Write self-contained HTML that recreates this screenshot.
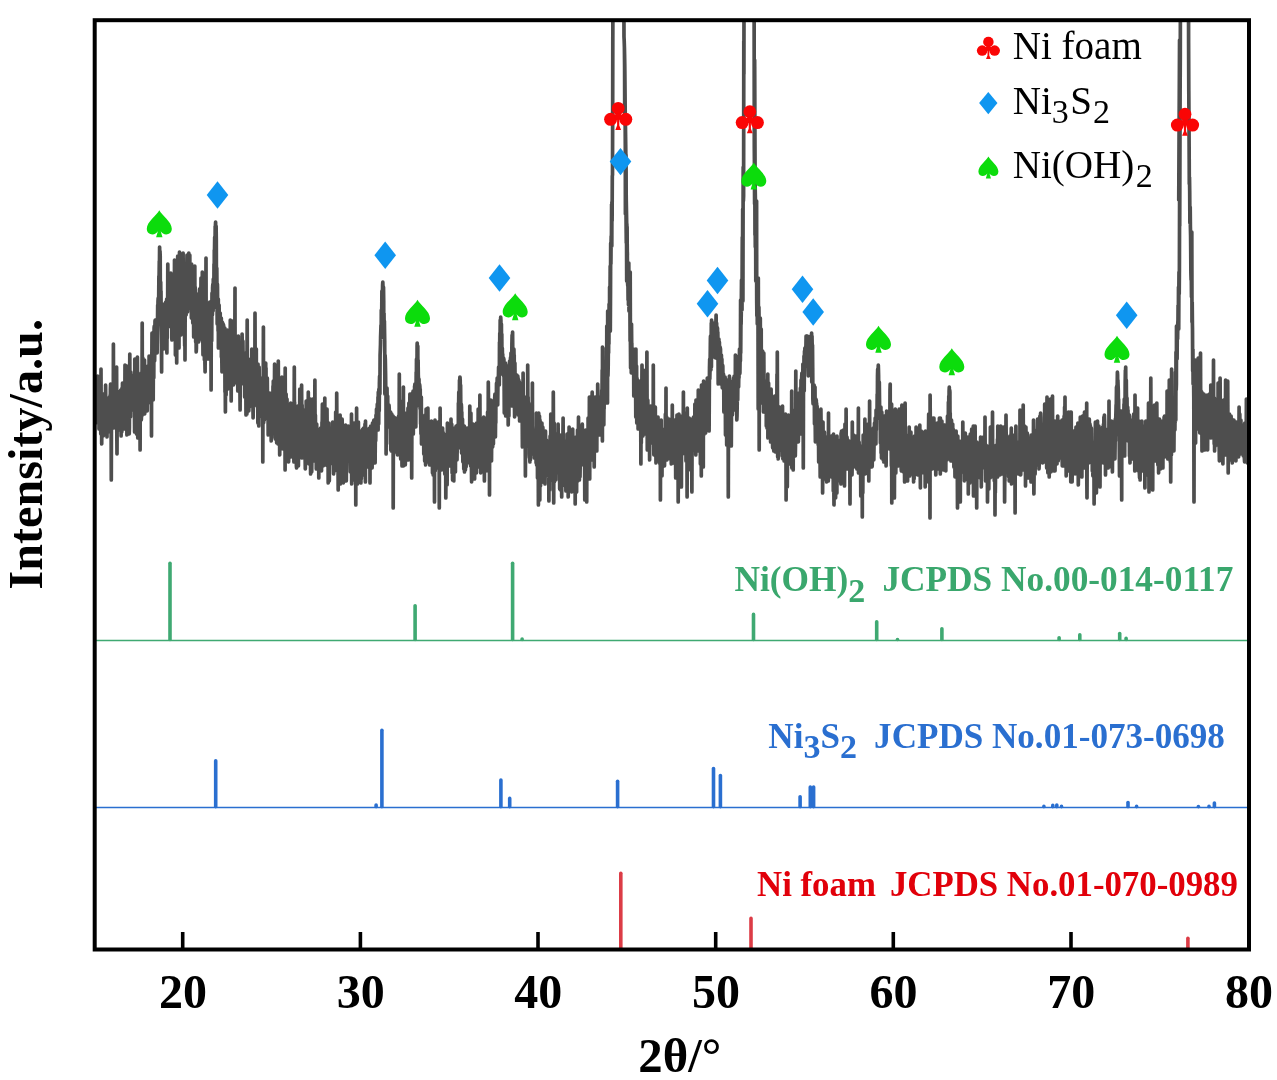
<!DOCTYPE html>
<html lang="en"><head><meta charset="utf-8"><title>XRD pattern</title>
<style>html,body{margin:0;padding:0;background:#fff}svg{display:block}</style></head>
<body>
<svg width="1277" height="1080" viewBox="0 0 1277 1080">
<rect width="1277" height="1080" fill="#fff"/>
<defs><clipPath id="cp"><rect x="94.7" y="20.2" width="1154.3" height="929.3"/></clipPath></defs>
<path clip-path="url(#cp)" d="M93.0 413L93.2 417L93.4 409L93.5 400L93.7 406L93.9 384L94.1 414L94.2 433L94.4 406L94.6 404L94.8 420L95.0 418L95.1 415L95.3 399L95.5 413L95.7 423L95.8 393L96.0 406L96.2 385L96.4 394L96.6 386L96.7 410L96.9 394L97.1 417L97.3 416L97.4 410L97.6 376L97.8 405L98.0 413L98.2 415L98.3 391L98.5 406L98.7 399L98.9 401L99.0 429L99.2 401L99.4 413L99.6 427L99.8 405L99.9 412L100.1 415L100.3 415L100.5 395L100.6 415L100.8 434L101.0 369L101.2 427L101.4 416L101.5 404L101.7 444L101.9 425L102.1 396L102.2 415L102.4 423L102.6 411L102.8 424L102.9 413L103.1 424L103.3 436L103.5 394L103.7 420L103.8 407L104.0 416L104.2 396L104.4 397L104.5 411L104.7 428L104.9 431L105.1 395L105.3 402L105.4 424L105.6 385L105.8 407L106.0 413L106.1 433L106.3 425L106.5 405L106.7 404L106.9 411L107.0 437L107.2 408L107.4 406L107.6 420L107.7 413L107.9 412L108.1 398L108.3 415L108.5 402L108.6 432L108.8 425L109.0 414L109.2 425L109.3 410L109.5 430L109.7 415L109.9 423L110.1 395L110.2 420L110.4 389L110.6 384L110.8 406L110.9 401L111.1 417L111.3 480L111.5 402L111.7 405L111.8 417L112.0 422L112.2 411L112.4 411L112.5 424L112.7 422L112.9 398L113.1 413L113.3 414L113.4 344L113.6 417L113.8 401L114.0 428L114.1 416L114.3 415L114.5 404L114.7 411L114.9 383L115.0 396L115.2 418L115.4 381L115.6 425L115.7 387L115.9 424L116.1 400L116.3 424L116.5 414L116.6 367L116.8 431L117.0 454L117.2 411L117.3 408L117.5 410L117.7 397L117.9 428L118.1 404L118.2 411L118.4 400L118.6 402L118.8 392L118.9 430L119.1 409L119.3 426L119.5 411L119.6 401L119.8 406L120.0 403L120.2 411L120.4 405L120.5 406L120.7 390L120.9 399L121.1 436L121.2 400L121.4 395L121.6 416L121.8 432L122.0 388L122.1 407L122.3 401L122.5 383L122.7 421L122.8 409L123.0 411L123.2 398L123.4 416L123.6 401L123.7 405L123.9 392L124.1 391L124.3 429L124.4 401L124.6 413L124.8 408L125.0 365L125.2 401L125.3 418L125.5 403L125.7 406L125.9 408L126.0 426L126.2 418L126.4 413L126.6 391L126.8 366L126.9 435L127.1 422L127.3 405L127.5 423L127.6 418L127.8 419L128.0 420L128.2 392L128.4 429L128.5 387L128.7 419L128.9 413L129.1 419L129.2 434L129.4 428L129.6 387L129.8 354L130.0 417L130.1 389L130.3 404L130.5 417L130.7 379L130.8 372L131.0 408L131.2 404L131.4 400L131.6 404L131.7 390L131.9 380L132.1 401L132.3 388L132.4 378L132.6 410L132.8 402L133.0 409L133.2 387L133.3 392L133.5 387L133.7 375L133.9 408L134.0 389L134.2 407L134.4 406L134.6 432L134.8 359L134.9 414L135.1 398L135.3 400L135.5 378L135.6 393L135.8 411L136.0 398L136.2 401L136.3 395L136.5 434L136.7 398L136.9 364L137.1 388L137.2 368L137.4 357L137.6 389L137.8 438L137.9 398L138.1 379L138.3 382L138.5 414L138.7 399L138.8 397L139.0 394L139.2 396L139.4 408L139.5 404L139.7 399L139.9 379L140.1 450L140.3 384L140.4 411L140.6 374L140.8 392L141.0 394L141.1 373L141.3 420L141.5 416L141.7 385L141.9 416L142.0 398L142.2 323L142.4 396L142.6 391L142.7 393L142.9 358L143.1 387L143.3 388L143.5 409L143.6 396L143.8 390L144.0 414L144.2 381L144.3 383L144.5 360L144.7 414L144.9 404L145.1 403L145.2 399L145.4 391L145.6 391L145.8 380L145.9 384L146.1 388L146.3 411L146.5 395L146.7 385L146.8 376L147.0 375L147.2 411L147.4 393L147.5 385L147.7 378L147.9 366L148.1 382L148.3 397L148.4 377L148.6 379L148.8 379L149.0 384L149.1 356L149.3 377L149.5 367L149.7 395L149.9 367L150.0 389L150.2 403L150.4 368L150.6 367L150.7 379L150.9 375L151.1 357L151.3 380L151.5 436L151.6 365L151.8 365L152.0 333L152.2 375L152.3 343L152.5 343L152.7 380L152.9 343L153.0 373L153.2 400L153.4 355L153.6 358L153.8 378L153.9 343L154.1 328L154.3 326L154.5 342L154.6 361L154.8 352L155.0 321L155.2 320L155.4 327L155.5 338L155.7 329L155.9 335L156.1 335L156.2 325L156.4 328L156.6 331L156.8 326L157.0 334L157.1 353L157.3 333L157.5 324L157.7 305L157.8 325L158.0 301L158.2 298L158.4 323L158.6 316L158.7 298L158.9 276L159.1 277L159.3 261L159.4 272L159.6 247L159.8 259L160.0 251L160.2 256L160.3 282L160.5 288L160.7 282L160.9 305L161.0 291L161.2 327L161.4 344L161.6 372L161.8 309L161.9 325L162.1 316L162.3 313L162.5 310L162.6 304L162.8 304L163.0 332L163.2 318L163.4 327L163.5 349L163.7 305L163.9 305L164.1 323L164.2 326L164.4 315L164.6 335L164.8 323L165.0 304L165.1 306L165.3 331L165.5 325L165.7 302L165.8 338L166.0 335L166.2 337L166.4 311L166.6 312L166.7 299L166.9 353L167.1 312L167.3 338L167.4 304L167.6 318L167.8 264L168.0 301L168.2 326L168.3 293L168.5 327L168.7 315L168.9 294L169.0 302L169.2 302L169.4 307L169.6 299L169.7 293L169.9 301L170.1 287L170.3 281L170.5 305L170.6 323L170.8 273L171.0 305L171.2 290L171.3 282L171.5 324L171.7 291L171.9 340L172.1 284L172.2 322L172.4 298L172.6 285L172.8 317L172.9 296L173.1 318L173.3 302L173.5 276L173.7 300L173.8 304L174.0 326L174.2 280L174.4 302L174.5 260L174.7 318L174.9 276L175.1 279L175.3 299L175.4 355L175.6 265L175.8 275L176.0 284L176.1 274L176.3 311L176.5 282L176.7 363L176.9 316L177.0 283L177.2 312L177.4 278L177.6 272L177.7 256L177.9 347L178.1 293L178.3 307L178.5 300L178.6 305L178.8 302L179.0 348L179.2 275L179.3 263L179.5 252L179.7 264L179.9 319L180.1 321L180.2 277L180.4 266L180.6 292L180.8 335L180.9 261L181.1 313L181.3 274L181.5 326L181.7 274L181.8 293L182.0 263L182.2 276L182.4 334L182.5 320L182.7 290L182.9 278L183.1 253L183.3 290L183.4 299L183.6 298L183.8 298L184.0 272L184.1 297L184.3 299L184.5 332L184.7 346L184.9 297L185.0 360L185.2 299L185.4 285L185.6 265L185.7 299L185.9 275L186.1 315L186.3 298L186.4 307L186.6 296L186.8 266L187.0 255L187.2 295L187.3 274L187.5 312L187.7 301L187.9 267L188.0 303L188.2 268L188.4 286L188.6 294L188.8 253L188.9 305L189.1 305L189.3 294L189.5 291L189.6 292L189.8 255L190.0 295L190.2 288L190.4 304L190.5 273L190.7 308L190.9 306L191.1 300L191.2 293L191.4 318L191.6 264L191.8 316L192.0 317L192.1 313L192.3 316L192.5 277L192.7 302L192.8 323L193.0 319L193.2 315L193.4 278L193.6 323L193.7 337L193.9 334L194.1 318L194.3 282L194.4 334L194.6 312L194.8 266L195.0 323L195.2 287L195.3 292L195.5 305L195.7 342L195.9 310L196.0 323L196.2 352L196.4 349L196.6 316L196.8 314L196.9 294L197.1 305L197.3 327L197.5 327L197.6 321L197.8 338L198.0 305L198.2 318L198.4 334L198.5 342L198.7 340L198.9 328L199.1 314L199.2 327L199.4 301L199.6 289L199.8 332L200.0 320L200.1 327L200.3 288L200.5 307L200.7 299L200.8 305L201.0 278L201.2 315L201.4 339L201.6 329L201.7 310L201.9 321L202.1 336L202.3 272L202.4 320L202.6 342L202.8 335L203.0 355L203.1 344L203.3 328L203.5 328L203.7 337L203.9 312L204.0 321L204.2 340L204.4 360L204.6 319L204.7 320L204.9 362L205.1 372L205.3 321L205.5 350L205.6 303L205.8 318L206.0 258L206.2 337L206.3 342L206.5 306L206.7 306L206.9 328L207.1 309L207.2 305L207.4 341L207.6 330L207.8 330L207.9 312L208.1 359L208.3 316L208.5 341L208.7 304L208.8 304L209.0 323L209.2 306L209.4 332L209.5 324L209.7 302L209.9 319L210.1 311L210.3 335L210.4 304L210.6 308L210.8 355L211.0 358L211.1 390L211.3 315L211.5 317L211.7 341L211.9 308L212.0 293L212.2 312L212.4 315L212.6 288L212.7 286L212.9 284L213.1 311L213.3 279L213.5 288L213.6 291L213.8 307L214.0 264L214.2 292L214.3 250L214.5 252L214.7 237L214.9 270L215.1 240L215.2 226L215.4 226L215.6 222L215.8 247L215.9 226L216.1 226L216.3 240L216.5 308L216.7 282L216.8 268L217.0 291L217.2 324L217.4 284L217.5 287L217.7 322L217.9 312L218.1 331L218.3 299L218.4 348L218.6 346L218.8 327L219.0 332L219.1 305L219.3 334L219.5 321L219.7 334L219.8 339L220.0 316L220.2 313L220.4 337L220.6 318L220.7 326L220.9 322L221.1 328L221.3 318L221.4 357L221.6 340L221.8 356L222.0 372L222.2 338L222.3 322L222.5 323L222.7 323L222.9 330L223.0 341L223.2 324L223.4 347L223.6 325L223.8 347L223.9 340L224.1 337L224.3 341L224.5 334L224.6 333L224.8 328L225.0 392L225.2 377L225.4 412L225.5 390L225.7 358L225.9 334L226.1 395L226.2 346L226.4 346L226.6 342L226.8 351L227.0 340L227.1 347L227.3 330L227.5 342L227.7 389L227.8 348L228.0 345L228.2 359L228.4 362L228.6 331L228.7 347L228.9 367L229.1 356L229.3 354L229.4 379L229.6 341L229.8 354L230.0 344L230.2 379L230.3 320L230.5 342L230.7 336L230.9 366L231.0 365L231.2 401L231.4 328L231.6 380L231.8 351L231.9 344L232.1 365L232.3 326L232.5 321L232.6 351L232.8 332L233.0 346L233.2 364L233.4 363L233.5 385L233.7 355L233.9 332L234.1 346L234.2 343L234.4 339L234.6 367L234.8 349L235.0 288L235.1 372L235.3 359L235.5 367L235.7 363L235.8 372L236.0 362L236.2 383L236.4 369L236.5 369L236.7 376L236.9 338L237.1 360L237.3 359L237.4 367L237.6 341L237.8 391L238.0 366L238.1 344L238.3 336L238.5 360L238.7 362L238.9 353L239.0 368L239.2 355L239.4 375L239.6 354L239.7 366L239.9 383L240.1 410L240.3 350L240.5 352L240.6 353L240.8 381L241.0 349L241.2 360L241.3 368L241.5 352L241.7 353L241.9 361L242.1 334L242.2 346L242.4 356L242.6 375L242.8 367L242.9 341L243.1 363L243.3 384L243.5 380L243.7 370L243.8 357L244.0 382L244.2 362L244.4 353L244.5 359L244.7 397L244.9 380L245.1 392L245.3 358L245.4 389L245.6 364L245.8 372L246.0 415L246.1 387L246.3 366L246.5 374L246.7 380L246.9 414L247.0 360L247.2 320L247.4 371L247.6 376L247.7 378L247.9 398L248.1 382L248.3 390L248.5 359L248.6 391L248.8 411L249.0 390L249.2 381L249.3 380L249.5 407L249.7 363L249.9 376L250.1 386L250.2 390L250.4 364L250.6 383L250.8 374L250.9 381L251.1 377L251.3 360L251.5 379L251.7 394L251.8 349L252.0 376L252.2 401L252.4 362L252.5 383L252.7 363L252.9 399L253.1 418L253.2 413L253.4 377L253.6 393L253.8 383L254.0 383L254.1 406L254.3 360L254.5 399L254.7 381L254.8 405L255.0 313L255.2 371L255.4 387L255.6 395L255.7 383L255.9 391L256.1 375L256.3 349L256.4 398L256.6 395L256.8 387L257.0 386L257.2 401L257.3 378L257.5 374L257.7 382L257.9 423L258.0 364L258.2 405L258.4 376L258.6 369L258.8 426L258.9 386L259.1 367L259.3 382L259.5 417L259.6 407L259.8 382L260.0 395L260.2 411L260.4 379L260.5 395L260.7 389L260.9 381L261.1 382L261.2 391L261.4 391L261.6 382L261.8 378L262.0 409L262.1 395L262.3 406L262.5 411L262.7 402L262.8 462L263.0 380L263.2 406L263.4 327L263.6 423L263.7 421L263.9 364L264.1 380L264.3 406L264.4 420L264.6 408L264.8 395L265.0 404L265.2 408L265.3 396L265.5 414L265.7 363L265.9 409L266.0 368L266.2 414L266.4 396L266.6 387L266.8 406L266.9 387L267.1 387L267.3 378L267.5 402L267.6 410L267.8 419L268.0 401L268.2 435L268.4 404L268.5 403L268.7 414L268.9 421L269.1 400L269.2 402L269.4 402L269.6 408L269.8 393L269.9 423L270.1 402L270.3 415L270.5 396L270.7 414L270.8 415L271.0 397L271.2 441L271.4 416L271.5 438L271.7 426L271.9 402L272.1 406L272.3 425L272.4 413L272.6 413L272.8 409L273.0 386L273.1 410L273.3 381L273.5 420L273.7 403L273.9 404L274.0 411L274.2 419L274.4 394L274.6 364L274.7 399L274.9 385L275.1 401L275.3 439L275.5 400L275.6 426L275.8 396L276.0 421L276.2 412L276.3 416L276.5 425L276.7 443L276.9 420L277.1 421L277.2 403L277.4 426L277.6 414L277.8 430L277.9 417L278.1 444L278.3 361L278.5 414L278.7 432L278.8 409L279.0 407L279.2 415L279.4 379L279.5 421L279.7 455L279.9 436L280.1 403L280.3 407L280.4 408L280.6 435L280.8 397L281.0 410L281.1 434L281.3 433L281.5 410L281.7 405L281.9 377L282.0 411L282.2 389L282.4 443L282.6 413L282.7 429L282.9 449L283.1 439L283.3 406L283.5 435L283.6 440L283.8 412L284.0 409L284.2 422L284.3 400L284.5 445L284.7 389L284.9 392L285.1 470L285.2 368L285.4 429L285.6 428L285.8 421L285.9 457L286.1 394L286.3 425L286.5 414L286.6 427L286.8 428L287.0 399L287.2 416L287.4 437L287.5 431L287.7 416L287.9 455L288.1 459L288.2 405L288.4 430L288.6 462L288.8 448L289.0 430L289.1 424L289.3 419L289.5 424L289.7 419L289.8 438L290.0 421L290.2 421L290.4 410L290.6 426L290.7 403L290.9 425L291.1 457L291.3 433L291.4 442L291.6 433L291.8 429L292.0 427L292.2 420L292.3 440L292.5 413L292.7 448L292.9 430L293.0 418L293.2 422L293.4 420L293.6 432L293.8 410L293.9 462L294.1 419L294.3 367L294.5 420L294.6 402L294.8 430L295.0 446L295.2 440L295.4 412L295.5 420L295.7 456L295.9 436L296.1 431L296.2 446L296.4 466L296.6 468L296.8 434L297.0 437L297.1 441L297.3 423L297.5 417L297.7 433L297.8 406L298.0 432L298.2 434L298.4 466L298.6 421L298.7 430L298.9 431L299.1 440L299.3 448L299.4 427L299.6 422L299.8 389L300.0 408L300.2 442L300.3 435L300.5 420L300.7 429L300.9 435L301.0 442L301.2 427L301.4 431L301.6 385L301.8 419L301.9 458L302.1 405L302.3 431L302.5 442L302.6 431L302.8 425L303.0 435L303.2 436L303.3 435L303.5 410L303.7 435L303.9 425L304.1 429L304.2 440L304.4 446L304.6 450L304.8 424L304.9 450L305.1 454L305.3 469L305.5 457L305.7 436L305.8 433L306.0 461L306.2 401L306.4 442L306.5 431L306.7 434L306.9 415L307.1 427L307.3 439L307.4 452L307.6 453L307.8 438L308.0 437L308.1 428L308.3 392L308.5 436L308.7 448L308.9 464L309.0 440L309.2 419L309.4 428L309.6 420L309.7 424L309.9 458L310.1 443L310.3 399L310.5 449L310.6 474L310.8 435L311.0 422L311.2 436L311.3 444L311.5 449L311.7 472L311.9 457L312.1 457L312.2 459L312.4 458L312.6 399L312.8 439L312.9 449L313.1 435L313.3 453L313.5 436L313.7 428L313.8 461L314.0 450L314.2 444L314.4 454L314.5 456L314.7 446L314.9 380L315.1 432L315.3 435L315.4 415L315.6 444L315.8 458L316.0 435L316.1 426L316.3 469L316.5 435L316.7 424L316.9 445L317.0 447L317.2 432L317.4 453L317.6 435L317.7 429L317.9 444L318.1 452L318.3 433L318.5 446L318.6 441L318.8 478L319.0 432L319.2 461L319.3 441L319.5 440L319.7 452L319.9 454L320.0 460L320.2 447L320.4 434L320.6 428L320.8 449L320.9 450L321.1 462L321.3 448L321.5 471L321.6 463L321.8 445L322.0 422L322.2 426L322.4 404L322.5 465L322.7 431L322.9 460L323.1 451L323.2 466L323.4 457L323.6 442L323.8 440L324.0 444L324.1 446L324.3 436L324.5 443L324.7 465L324.8 398L325.0 447L325.2 431L325.4 446L325.6 455L325.7 443L325.9 454L326.1 422L326.3 459L326.4 436L326.6 453L326.8 447L327.0 409L327.2 434L327.3 448L327.5 466L327.7 449L327.9 452L328.0 426L328.2 483L328.4 470L328.6 446L328.8 442L328.9 423L329.1 457L329.3 481L329.5 455L329.6 463L329.8 460L330.0 432L330.2 464L330.4 429L330.5 443L330.7 450L330.9 458L331.1 452L331.2 451L331.4 436L331.6 429L331.8 447L332.0 428L332.1 429L332.3 429L332.5 440L332.7 422L332.8 429L333.0 425L333.2 449L333.4 453L333.6 474L333.7 427L333.9 438L334.1 460L334.3 444L334.4 443L334.6 471L334.8 443L335.0 432L335.2 430L335.3 452L335.5 452L335.7 412L335.9 435L336.0 455L336.2 456L336.4 440L336.6 465L336.7 393L336.9 424L337.1 444L337.3 454L337.5 441L337.6 420L337.8 441L338.0 459L338.2 490L338.3 419L338.5 484L338.7 433L338.9 462L339.1 465L339.2 462L339.4 451L339.6 433L339.8 457L339.9 439L340.1 415L340.3 484L340.5 458L340.7 473L340.8 436L341.0 468L341.2 470L341.4 470L341.5 448L341.7 433L341.9 446L342.1 419L342.3 426L342.4 451L342.6 435L342.8 447L343.0 447L343.1 475L343.3 483L343.5 448L343.7 465L343.9 438L344.0 444L344.2 461L344.4 432L344.6 442L344.7 431L344.9 450L345.1 471L345.3 439L345.5 452L345.6 425L345.8 433L346.0 432L346.2 469L346.3 481L346.5 455L346.7 439L346.9 458L347.1 444L347.2 460L347.4 453L347.6 453L347.8 457L347.9 441L348.1 438L348.3 426L348.5 443L348.7 430L348.8 445L349.0 436L349.2 450L349.4 455L349.5 430L349.7 438L349.9 436L350.1 459L350.3 472L350.4 460L350.6 440L350.8 469L351.0 429L351.1 469L351.3 440L351.5 414L351.7 484L351.9 470L352.0 422L352.2 451L352.4 446L352.6 450L352.7 429L352.9 440L353.1 455L353.3 455L353.4 465L353.6 450L353.8 480L354.0 439L354.2 456L354.3 423L354.5 432L354.7 467L354.9 436L355.0 463L355.2 448L355.4 435L355.6 444L355.8 505L355.9 442L356.1 459L356.3 457L356.5 441L356.6 408L356.8 452L357.0 447L357.2 462L357.4 484L357.5 460L357.7 448L357.9 446L358.1 426L358.2 436L358.4 422L358.6 443L358.8 443L359.0 468L359.1 443L359.3 446L359.5 432L359.7 470L359.8 455L360.0 472L360.2 459L360.4 468L360.6 441L360.7 458L360.9 483L361.1 431L361.3 479L361.4 471L361.6 453L361.8 458L362.0 465L362.2 439L362.3 459L362.5 436L362.7 429L362.9 431L363.0 446L363.2 449L363.4 454L363.6 428L363.8 475L363.9 463L364.1 467L364.3 442L364.5 446L364.6 455L364.8 453L365.0 424L365.2 457L365.4 482L365.5 421L365.7 460L365.9 452L366.1 445L366.2 466L366.4 430L366.6 451L366.8 467L367.0 443L367.1 440L367.3 447L367.5 439L367.7 467L367.8 433L368.0 457L368.2 429L368.4 454L368.6 443L368.7 429L368.9 444L369.1 429L369.3 438L369.4 465L369.6 428L369.8 428L370.0 483L370.1 445L370.3 465L370.5 447L370.7 426L370.9 441L371.0 459L371.2 455L371.4 441L371.6 442L371.7 439L371.9 432L372.1 468L372.3 440L372.5 423L372.6 432L372.8 449L373.0 448L373.2 436L373.3 428L373.5 437L373.7 421L373.9 420L374.1 447L374.2 428L374.4 440L374.6 452L374.8 443L374.9 433L375.1 463L375.3 441L375.5 425L375.7 441L375.8 435L376.0 415L376.2 428L376.4 421L376.5 409L376.7 419L376.9 418L377.1 414L377.3 404L377.4 413L377.6 415L377.8 416L378.0 397L378.1 430L378.3 392L378.5 402L378.7 424L378.9 389L379.0 389L379.2 411L379.4 383L379.6 376L379.7 385L379.9 394L380.1 355L380.3 350L380.5 344L380.6 337L380.8 331L381.0 325L381.2 338L381.3 310L381.5 321L381.7 319L381.9 291L382.1 305L382.2 327L382.4 298L382.6 285L382.8 282L382.9 285L383.1 304L383.3 315L383.5 287L383.7 301L383.8 337L384.0 313L384.2 333L384.4 321L384.5 329L384.7 341L384.9 394L385.1 355L385.3 359L385.4 364L385.6 375L385.8 393L386.0 389L386.1 454L386.3 397L386.5 419L386.7 408L386.8 411L387.0 388L387.2 405L387.4 408L387.6 407L387.7 396L387.9 427L388.1 409L388.3 410L388.4 414L388.6 416L388.8 426L389.0 405L389.2 408L389.3 427L389.5 426L389.7 419L389.9 417L390.0 414L390.2 426L390.4 444L390.6 412L390.8 450L390.9 441L391.1 422L391.3 451L391.5 414L391.6 414L391.8 414L392.0 425L392.2 426L392.4 424L392.5 433L392.7 416L392.9 439L393.1 416L393.2 508L393.4 427L393.6 417L393.8 417L394.0 419L394.1 433L394.3 442L394.5 449L394.7 420L394.8 423L395.0 421L395.2 446L395.4 418L395.6 452L395.7 421L395.9 423L396.1 439L396.3 449L396.4 439L396.6 449L396.8 438L397.0 452L397.2 452L397.3 433L397.5 455L397.7 437L397.9 436L398.0 422L398.2 427L398.4 446L398.6 416L398.8 453L398.9 440L399.1 439L399.3 374L399.5 433L399.6 444L399.8 424L400.0 436L400.2 401L400.4 444L400.5 417L400.7 459L400.9 409L401.1 444L401.2 431L401.4 446L401.6 422L401.8 426L402.0 466L402.1 423L402.3 425L402.5 427L402.7 406L402.8 451L403.0 459L403.2 424L403.4 387L403.5 466L403.7 449L403.9 445L404.1 450L404.3 421L404.4 431L404.6 414L404.8 413L405.0 447L405.1 423L405.3 465L405.5 435L405.7 423L405.9 444L406.0 458L406.2 439L406.4 414L406.6 437L406.7 451L406.9 424L407.1 420L407.3 459L407.5 433L407.6 414L407.8 424L408.0 408L408.2 433L408.3 430L408.5 460L408.7 437L408.9 403L409.1 431L409.2 437L409.4 430L409.6 438L409.8 414L409.9 394L410.1 433L410.3 403L410.5 402L410.7 432L410.8 405L411.0 411L411.2 398L411.4 397L411.5 397L411.7 478L411.9 417L412.1 395L412.3 421L412.4 393L412.6 393L412.8 428L413.0 406L413.1 391L413.3 434L413.5 393L413.7 413L413.9 408L414.0 426L414.2 396L414.4 418L414.6 386L414.7 418L414.9 384L415.1 393L415.3 427L415.5 401L415.6 396L415.8 427L416.0 395L416.2 372L416.3 392L416.5 359L416.7 387L416.9 381L417.1 346L417.2 343L417.4 354L417.6 356L417.8 346L417.9 388L418.1 360L418.3 375L418.5 380L418.7 385L418.8 402L419.0 379L419.2 406L419.4 396L419.5 384L419.7 385L419.9 387L420.1 409L420.2 389L420.4 407L420.6 424L420.8 424L421.0 434L421.1 403L421.3 397L421.5 444L421.7 424L421.8 433L422.0 418L422.2 437L422.4 433L422.6 432L422.7 430L422.9 430L423.1 429L423.3 429L423.4 441L423.6 421L423.8 454L424.0 428L424.2 444L424.3 429L424.5 428L424.7 461L424.9 428L425.0 415L425.2 423L425.4 430L425.6 465L425.8 438L425.9 449L426.1 409L426.3 441L426.5 446L426.6 462L426.8 428L427.0 446L427.2 442L427.4 424L427.5 439L427.7 436L427.9 408L428.1 448L428.2 448L428.4 435L428.6 423L428.8 462L429.0 446L429.1 456L429.3 462L429.5 436L429.7 465L429.8 440L430.0 443L430.2 443L430.4 444L430.6 459L430.7 446L430.9 442L431.1 441L431.3 449L431.4 421L431.6 438L431.8 444L432.0 430L432.2 443L432.3 437L432.5 473L432.7 463L432.9 452L433.0 445L433.2 475L433.4 450L433.6 445L433.8 450L433.9 454L434.1 465L434.3 446L434.5 502L434.6 434L434.8 456L435.0 420L435.2 471L435.4 442L435.5 446L435.7 459L435.9 464L436.1 432L436.2 442L436.4 428L436.6 449L436.8 446L436.9 442L437.1 438L437.3 442L437.5 437L437.7 455L437.8 468L438.0 422L438.2 446L438.4 442L438.5 454L438.7 435L438.9 446L439.1 434L439.3 508L439.4 450L439.6 446L439.8 453L440.0 442L440.1 408L440.3 457L440.5 453L440.7 447L440.9 462L441.0 465L441.2 434L441.4 438L441.6 470L441.7 468L441.9 430L442.1 433L442.3 441L442.5 443L442.6 428L442.8 450L443.0 432L443.2 433L443.3 462L443.5 441L443.7 449L443.9 458L444.1 461L444.2 441L444.4 451L444.6 439L444.8 474L444.9 459L445.1 436L445.3 451L445.5 460L445.7 457L445.8 498L446.0 469L446.2 443L446.4 449L446.5 434L446.7 454L446.9 455L447.1 485L447.3 452L447.4 423L447.6 433L447.8 452L448.0 434L448.1 439L448.3 445L448.5 459L448.7 446L448.9 427L449.0 460L449.2 443L449.4 437L449.6 431L449.7 439L449.9 466L450.1 427L450.3 448L450.5 459L450.6 444L450.8 452L451.0 419L451.2 466L451.3 463L451.5 451L451.7 424L451.9 434L452.1 473L452.2 471L452.4 451L452.6 480L452.8 439L452.9 444L453.1 447L453.3 452L453.5 430L453.6 459L453.8 481L454.0 430L454.2 429L454.4 450L454.5 436L454.7 428L454.9 455L455.1 448L455.2 437L455.4 472L455.6 444L455.8 431L456.0 443L456.1 426L456.3 429L456.5 450L456.7 431L456.8 431L457.0 460L457.2 447L457.4 445L457.6 446L457.7 436L457.9 448L458.1 424L458.3 448L458.4 403L458.6 409L458.8 392L459.0 397L459.2 405L459.3 415L459.5 380L459.7 386L459.9 377L460.0 377L460.2 380L460.4 397L460.6 385L460.8 408L460.9 412L461.1 406L461.3 404L461.5 407L461.6 453L461.8 412L462.0 453L462.2 449L462.4 429L462.5 419L462.7 451L462.9 462L463.1 425L463.2 435L463.4 454L463.6 445L463.8 469L464.0 434L464.1 457L464.3 426L464.5 472L464.7 433L464.8 427L465.0 442L465.2 440L465.4 470L465.6 440L465.7 444L465.9 453L466.1 467L466.3 444L466.4 460L466.6 459L466.8 442L467.0 447L467.2 447L467.3 434L467.5 463L467.7 428L467.9 462L468.0 460L468.2 446L468.4 437L468.6 444L468.8 454L468.9 457L469.1 455L469.3 461L469.5 440L469.6 451L469.8 406L470.0 458L470.2 452L470.3 442L470.5 464L470.7 466L470.9 413L471.1 449L471.2 429L471.4 463L471.6 482L471.8 435L471.9 450L472.1 445L472.3 453L472.5 457L472.7 466L472.8 436L473.0 470L473.2 424L473.4 453L473.5 465L473.7 459L473.9 436L474.1 439L474.3 443L474.4 448L474.6 479L474.8 431L475.0 455L475.1 457L475.3 456L475.5 455L475.7 469L475.9 455L476.0 460L476.2 456L476.4 473L476.6 423L476.7 466L476.9 445L477.1 445L477.3 435L477.5 423L477.6 443L477.8 439L478.0 455L478.2 409L478.3 467L478.5 455L478.7 445L478.9 438L479.1 437L479.2 433L479.4 440L479.6 448L479.8 445L479.9 395L480.1 444L480.3 435L480.5 450L480.7 473L480.8 456L481.0 443L481.2 425L481.4 428L481.5 424L481.7 457L481.9 427L482.1 448L482.3 439L482.4 448L482.6 466L482.8 438L483.0 442L483.1 436L483.3 459L483.5 433L483.7 417L483.9 428L484.0 427L484.2 453L484.4 481L484.6 432L484.7 459L484.9 449L485.1 430L485.3 441L485.5 442L485.6 435L485.8 471L486.0 418L486.2 449L486.3 452L486.5 435L486.7 447L486.9 466L487.0 444L487.2 447L487.4 460L487.6 412L487.8 461L487.9 471L488.1 453L488.3 382L488.5 400L488.6 437L488.8 426L489.0 429L489.2 451L489.4 415L489.5 495L489.7 409L489.9 433L490.1 436L490.2 425L490.4 424L490.6 460L490.8 400L491.0 418L491.1 421L491.3 449L491.5 461L491.7 435L491.8 409L492.0 422L492.2 443L492.4 414L492.6 447L492.7 446L492.9 425L493.1 432L493.3 433L493.4 444L493.6 404L493.8 436L494.0 412L494.2 400L494.3 416L494.5 410L494.7 398L494.9 395L495.0 394L495.2 431L495.4 437L495.6 416L495.8 423L495.9 396L496.1 401L496.3 405L496.5 384L496.6 383L496.8 398L497.0 390L497.2 378L497.4 404L497.5 386L497.7 405L497.9 387L498.1 380L498.2 385L498.4 377L498.6 367L498.8 368L499.0 384L499.1 378L499.3 385L499.5 342L499.7 346L499.8 333L500.0 344L500.2 320L500.4 320L500.6 340L500.7 317L500.9 320L501.1 354L501.3 352L501.4 324L501.6 360L501.8 334L502.0 374L502.2 355L502.3 348L502.5 358L502.7 354L502.9 372L503.0 373L503.2 372L503.4 364L503.6 358L503.7 376L503.9 359L504.1 380L504.3 413L504.5 381L504.6 371L504.8 374L505.0 375L505.2 369L505.3 368L505.5 363L505.7 416L505.9 378L506.1 409L506.2 374L506.4 380L506.6 376L506.8 386L506.9 392L507.1 382L507.3 367L507.5 366L507.7 405L507.8 374L508.0 374L508.2 425L508.4 413L508.5 387L508.7 372L508.9 416L509.1 384L509.3 395L509.4 375L509.6 361L509.8 361L510.0 383L510.1 382L510.3 371L510.5 358L510.7 357L510.9 366L511.0 353L511.2 382L511.4 384L511.6 406L511.7 373L511.9 344L512.1 335L512.3 335L512.5 335L512.6 332L512.8 357L513.0 354L513.2 357L513.3 356L513.5 368L513.7 386L513.9 349L514.1 361L514.2 355L514.4 400L514.6 417L514.8 402L514.9 363L515.1 383L515.3 378L515.5 384L515.7 378L515.8 393L516.0 379L516.2 400L516.4 391L516.5 379L516.7 387L516.9 375L517.1 403L517.3 386L517.4 396L517.6 386L517.8 376L518.0 407L518.1 378L518.3 415L518.5 402L518.7 380L518.9 382L519.0 389L519.2 385L519.4 382L519.6 421L519.7 396L519.9 406L520.1 388L520.3 406L520.4 391L520.6 403L520.8 412L521.0 405L521.2 398L521.3 389L521.5 411L521.7 412L521.9 400L522.0 396L522.2 417L522.4 447L522.6 405L522.8 415L522.9 417L523.1 373L523.3 414L523.5 402L523.6 434L523.8 410L524.0 403L524.2 412L524.4 418L524.5 408L524.7 416L524.9 397L525.1 414L525.2 430L525.4 476L525.6 430L525.8 424L526.0 438L526.1 436L526.3 446L526.5 438L526.7 421L526.8 427L527.0 429L527.2 429L527.4 430L527.6 413L527.7 365L527.9 416L528.1 397L528.3 428L528.4 428L528.6 403L528.8 439L529.0 442L529.2 431L529.3 455L529.5 458L529.7 413L529.9 462L530.0 439L530.2 439L530.4 460L530.6 412L530.8 425L530.9 422L531.1 423L531.3 434L531.5 414L531.6 420L531.8 445L532.0 435L532.2 443L532.4 383L532.5 426L532.7 430L532.9 439L533.1 431L533.2 454L533.4 439L533.6 441L533.8 441L534.0 452L534.1 434L534.3 458L534.5 449L534.7 447L534.8 444L535.0 450L535.2 458L535.4 457L535.6 449L535.7 457L535.9 446L536.1 463L536.3 444L536.4 413L536.6 465L536.8 447L537.0 428L537.2 443L537.3 420L537.5 478L537.7 454L537.9 423L538.0 463L538.2 441L538.4 505L538.6 416L538.7 413L538.9 449L539.1 443L539.3 442L539.5 416L539.6 462L539.8 500L540.0 420L540.2 468L540.3 441L540.5 486L540.7 457L540.9 447L541.1 483L541.2 458L541.4 441L541.6 461L541.8 443L541.9 423L542.1 482L542.3 440L542.5 441L542.7 456L542.8 427L543.0 430L543.2 436L543.4 443L543.5 452L543.7 469L543.9 444L544.1 459L544.3 461L544.4 435L544.6 455L544.8 437L545.0 484L545.1 459L545.3 452L545.5 431L545.7 454L545.9 440L546.0 463L546.2 450L546.4 440L546.6 467L546.7 463L546.9 443L547.1 470L547.3 448L547.5 448L547.6 456L547.8 441L548.0 446L548.2 451L548.3 476L548.5 476L548.7 449L548.9 501L549.1 453L549.2 459L549.4 467L549.6 458L549.8 490L549.9 457L550.1 436L550.3 474L550.5 448L550.7 449L550.8 414L551.0 469L551.2 467L551.4 466L551.5 469L551.7 480L551.9 453L552.1 469L552.3 443L552.4 449L552.6 471L552.8 461L553.0 435L553.1 460L553.3 392L553.5 431L553.7 503L553.9 449L554.0 431L554.2 423L554.4 482L554.6 433L554.7 459L554.9 465L555.1 465L555.3 437L555.4 451L555.6 458L555.8 480L556.0 446L556.2 439L556.3 471L556.5 473L556.7 462L556.9 447L557.0 463L557.2 458L557.4 469L557.6 438L557.8 459L557.9 454L558.1 424L558.3 463L558.5 458L558.6 451L558.8 463L559.0 436L559.2 457L559.4 464L559.5 462L559.7 489L559.9 440L560.1 435L560.2 461L560.4 465L560.6 490L560.8 467L561.0 445L561.1 470L561.3 446L561.5 436L561.7 497L561.8 463L562.0 479L562.2 467L562.4 486L562.6 463L562.7 477L562.9 443L563.1 418L563.3 480L563.4 481L563.6 466L563.8 462L564.0 461L564.2 448L564.3 482L564.5 468L564.7 473L564.9 464L565.0 474L565.2 466L565.4 470L565.6 441L565.8 466L565.9 491L566.1 451L566.3 456L566.5 484L566.6 473L566.8 468L567.0 434L567.2 466L567.4 440L567.5 446L567.7 474L567.9 453L568.1 470L568.2 497L568.4 470L568.6 469L568.8 444L569.0 439L569.1 427L569.3 450L569.5 441L569.7 448L569.8 454L570.0 442L570.2 436L570.4 437L570.6 464L570.7 458L570.9 473L571.1 473L571.3 452L571.4 467L571.6 436L571.8 492L572.0 475L572.1 454L572.3 440L572.5 463L572.7 429L572.9 445L573.0 468L573.2 458L573.4 450L573.6 471L573.7 441L573.9 461L574.1 449L574.3 444L574.5 464L574.6 442L574.8 486L575.0 448L575.2 504L575.3 440L575.5 466L575.7 439L575.9 437L576.1 459L576.2 477L576.4 438L576.6 492L576.8 445L576.9 459L577.1 463L577.3 466L577.5 430L577.7 481L577.8 465L578.0 451L578.2 441L578.4 431L578.5 417L578.7 465L578.9 452L579.1 440L579.3 441L579.4 480L579.6 452L579.8 448L580.0 477L580.1 471L580.3 458L580.5 439L580.7 434L580.9 439L581.0 450L581.2 454L581.4 462L581.6 465L581.7 460L581.9 460L582.1 427L582.3 424L582.5 449L582.6 429L582.8 447L583.0 452L583.2 438L583.3 440L583.5 455L583.7 458L583.9 446L584.1 463L584.2 452L584.4 440L584.6 456L584.8 500L584.9 445L585.1 473L585.3 476L585.5 477L585.7 430L585.8 485L586.0 456L586.2 450L586.4 450L586.5 463L586.7 502L586.9 450L587.1 472L587.3 441L587.4 436L587.6 464L587.8 462L588.0 467L588.1 418L588.3 466L588.5 456L588.7 476L588.8 428L589.0 454L589.2 442L589.4 397L589.6 434L589.7 479L589.9 436L590.1 431L590.3 455L590.4 457L590.6 456L590.8 427L591.0 438L591.2 454L591.3 427L591.5 424L591.7 449L591.9 460L592.0 399L592.2 392L592.4 410L592.6 416L592.8 429L592.9 440L593.1 428L593.3 418L593.5 433L593.6 399L593.8 427L594.0 407L594.2 467L594.4 438L594.5 412L594.7 409L594.9 417L595.1 397L595.2 411L595.4 410L595.6 435L595.8 414L596.0 407L596.1 398L596.3 400L596.5 417L596.7 414L596.8 451L597.0 407L597.2 432L597.4 420L597.6 415L597.7 384L597.9 394L598.1 425L598.3 435L598.4 416L598.6 435L598.8 406L599.0 406L599.2 402L599.3 426L599.5 416L599.7 407L599.9 401L600.0 418L600.2 419L600.4 397L600.6 435L600.8 412L600.9 408L601.1 430L601.3 423L601.5 406L601.6 415L601.8 390L602.0 396L602.2 370L602.4 441L602.5 347L602.7 413L602.9 377L603.1 386L603.2 398L603.4 404L603.6 408L603.8 425L604.0 402L604.1 409L604.3 376L604.5 404L604.7 394L604.8 383L605.0 387L605.2 386L605.4 388L605.5 390L605.7 374L605.9 368L606.1 402L606.3 348L606.4 364L606.6 398L606.8 326L607.0 356L607.1 387L607.3 334L607.5 403L607.7 311L607.9 376L608.0 375L608.2 366L608.4 342L608.6 353L608.7 319L608.9 344L609.1 304L609.3 314L609.5 332L609.6 287L609.8 296L610.0 301L610.2 266L610.3 331L610.5 294L610.7 243L610.9 264L611.1 241L611.2 236L611.4 243L611.6 204L611.8 246L611.9 202L612.1 221L612.3 176L612.5 175L612.7 99L612.8 43L613.0 -19L613.2 -60L613.4 -60L613.5 -60L613.7 -60L613.9 -60L614.1 -60L614.3 -60L614.4 -60L614.6 -60L614.8 -60L615.0 -60L615.1 -60L615.3 -60L615.5 -60L615.7 -60L615.9 -60L616.0 -60L616.2 -60L616.4 -60L616.6 -60L616.7 -60L616.9 -60L617.1 -60L617.3 -60L617.5 -60L617.6 -60L617.8 -60L618.0 -60L618.2 -60L618.3 -60L618.5 -60L618.7 -60L618.9 -60L619.1 -60L619.2 -60L619.4 -60L619.6 -60L619.8 -60L619.9 -60L620.1 -60L620.3 -60L620.5 -60L620.7 -60L620.8 -60L621.0 -60L621.2 -60L621.4 -60L621.5 -60L621.7 -60L621.9 -60L622.1 -60L622.2 -60L622.4 -60L622.6 -60L622.8 -60L623.0 -60L623.1 -60L623.3 -60L623.5 -60L623.7 -60L623.8 -23L624.0 37L624.2 41L624.4 47L624.6 67L624.7 107L624.9 119L625.1 108L625.3 145L625.4 214L625.6 157L625.8 155L626.0 212L626.2 233L626.3 243L626.5 224L626.7 281L626.9 227L627.0 227L627.2 244L627.4 261L627.6 283L627.8 286L627.9 277L628.1 300L628.3 287L628.5 305L628.6 264L628.8 263L629.0 311L629.2 273L629.4 294L629.5 300L629.7 298L629.9 303L630.1 341L630.2 272L630.4 338L630.6 368L630.8 330L631.0 333L631.1 350L631.3 373L631.5 324L631.7 345L631.8 343L632.0 359L632.2 354L632.4 365L632.6 349L632.7 359L632.9 349L633.1 351L633.3 362L633.4 364L633.6 349L633.8 396L634.0 369L634.2 350L634.3 392L634.5 363L634.7 385L634.9 378L635.0 384L635.2 383L635.4 372L635.6 384L635.8 417L635.9 349L636.1 387L636.3 393L636.5 370L636.6 366L636.8 423L637.0 378L637.2 423L637.4 407L637.5 392L637.7 399L637.9 402L638.1 429L638.2 400L638.4 397L638.6 400L638.8 417L638.9 409L639.1 381L639.3 387L639.5 403L639.7 389L639.8 388L640.0 385L640.2 396L640.4 413L640.5 416L640.7 402L640.9 464L641.1 401L641.3 443L641.4 419L641.6 419L641.8 397L642.0 365L642.1 403L642.3 408L642.5 435L642.7 385L642.9 436L643.0 404L643.2 419L643.4 370L643.6 411L643.7 404L643.9 420L644.1 411L644.3 393L644.5 425L644.6 432L644.8 421L645.0 427L645.2 429L645.3 413L645.5 393L645.7 393L645.9 434L646.1 425L646.2 417L646.4 409L646.6 416L646.8 417L646.9 352L647.1 407L647.3 450L647.5 422L647.7 410L647.8 400L648.0 409L648.2 431L648.4 442L648.5 418L648.7 422L648.9 417L649.1 406L649.3 442L649.4 428L649.6 460L649.8 413L650.0 422L650.1 438L650.3 418L650.5 406L650.7 412L650.9 428L651.0 432L651.2 426L651.4 442L651.6 443L651.7 433L651.9 430L652.1 423L652.3 438L652.5 443L652.6 432L652.8 437L653.0 427L653.2 412L653.3 365L653.5 443L653.7 439L653.9 455L654.1 434L654.2 445L654.4 452L654.6 448L654.8 425L654.9 431L655.1 436L655.3 407L655.5 441L655.6 449L655.8 428L656.0 463L656.2 427L656.4 432L656.5 432L656.7 426L656.9 442L657.1 436L657.2 459L657.4 453L657.6 444L657.8 434L658.0 417L658.1 436L658.3 425L658.5 451L658.7 437L658.8 461L659.0 448L659.2 450L659.4 442L659.6 444L659.7 448L659.9 464L660.1 429L660.3 446L660.4 500L660.6 438L660.8 436L661.0 430L661.2 420L661.3 472L661.5 441L661.7 445L661.9 466L662.0 476L662.2 429L662.4 456L662.6 450L662.8 447L662.9 448L663.1 441L663.3 464L663.5 450L663.6 447L663.8 459L664.0 454L664.2 449L664.4 451L664.5 466L664.7 456L664.9 441L665.1 431L665.2 438L665.4 414L665.6 444L665.8 449L666.0 388L666.1 443L666.3 452L666.5 445L666.7 417L666.8 460L667.0 433L667.2 426L667.4 428L667.6 443L667.7 456L667.9 459L668.1 446L668.3 427L668.4 434L668.6 431L668.8 441L669.0 419L669.2 445L669.3 452L669.5 441L669.7 450L669.9 430L670.0 423L670.2 435L670.4 459L670.6 458L670.8 431L670.9 460L671.1 439L671.3 464L671.5 450L671.6 437L671.8 455L672.0 433L672.2 431L672.3 405L672.5 447L672.7 443L672.9 443L673.1 438L673.2 463L673.4 438L673.6 424L673.8 461L673.9 463L674.1 448L674.3 420L674.5 435L674.7 452L674.8 443L675.0 464L675.2 424L675.4 452L675.5 426L675.7 478L675.9 441L676.1 457L676.3 434L676.4 423L676.6 427L676.8 434L677.0 415L677.1 459L677.3 461L677.5 446L677.7 428L677.9 440L678.0 432L678.2 502L678.4 446L678.6 455L678.7 436L678.9 414L679.1 431L679.3 426L679.5 446L679.6 443L679.8 430L680.0 436L680.2 463L680.3 428L680.5 416L680.7 435L680.9 422L681.1 429L681.2 448L681.4 487L681.6 416L681.8 440L681.9 441L682.1 439L682.3 438L682.5 435L682.7 454L682.8 433L683.0 438L683.2 440L683.4 392L683.5 435L683.7 453L683.9 439L684.1 442L684.3 438L684.4 425L684.6 427L684.8 424L685.0 441L685.1 419L685.3 423L685.5 441L685.7 445L685.9 413L686.0 461L686.2 438L686.4 436L686.6 452L686.7 438L686.9 429L687.1 497L687.3 408L687.5 434L687.6 448L687.8 421L688.0 435L688.2 442L688.3 470L688.5 423L688.7 435L688.9 445L689.0 437L689.2 418L689.4 441L689.6 437L689.8 441L689.9 451L690.1 449L690.3 440L690.5 439L690.6 419L690.8 432L691.0 437L691.2 428L691.4 436L691.5 422L691.7 455L691.9 492L692.1 427L692.2 438L692.4 429L692.6 450L692.8 438L693.0 433L693.1 429L693.3 433L693.5 417L693.7 441L693.8 421L694.0 438L694.2 432L694.4 446L694.6 430L694.7 445L694.9 404L695.1 438L695.3 426L695.4 432L695.6 430L695.8 455L696.0 400L696.2 433L696.3 407L696.5 446L696.7 400L696.9 413L697.0 404L697.2 451L697.4 409L697.6 429L697.8 419L697.9 400L698.1 421L698.3 390L698.5 423L698.6 439L698.8 420L699.0 425L699.2 419L699.4 434L699.5 451L699.7 429L699.9 426L700.1 405L700.2 411L700.4 464L700.6 405L700.8 408L701.0 419L701.1 414L701.3 476L701.5 385L701.7 425L701.8 429L702.0 402L702.2 408L702.4 424L702.6 441L702.7 403L702.9 393L703.1 430L703.3 467L703.4 409L703.6 381L703.8 435L704.0 410L704.2 429L704.3 411L704.5 405L704.7 403L704.9 431L705.0 430L705.2 392L705.4 393L705.6 433L705.7 394L705.9 388L706.1 403L706.3 399L706.5 400L706.6 392L706.8 394L707.0 390L707.2 401L707.3 378L707.5 388L707.7 388L707.9 409L708.1 393L708.2 383L708.4 391L708.6 393L708.8 396L708.9 384L709.1 431L709.3 393L709.5 368L709.7 359L709.8 379L710.0 370L710.2 357L710.4 339L710.5 336L710.7 360L710.9 370L711.1 353L711.3 323L711.4 367L711.6 320L711.8 334L712.0 335L712.1 323L712.3 323L712.5 323L712.7 323L712.9 323L713.0 348L713.2 342L713.4 357L713.6 348L713.7 325L713.9 353L714.1 334L714.3 351L714.5 345L714.6 323L714.8 336L715.0 336L715.2 327L715.3 346L715.5 358L715.7 323L715.9 323L716.1 315L716.2 323L716.4 323L716.6 323L716.8 339L716.9 358L717.1 327L717.3 336L717.5 328L717.7 359L717.8 332L718.0 344L718.2 384L718.4 353L718.5 361L718.7 351L718.9 339L719.1 355L719.3 364L719.4 342L719.6 365L719.8 381L720.0 380L720.1 347L720.3 348L720.5 349L720.7 384L720.9 378L721.0 380L721.2 355L721.4 355L721.6 375L721.7 375L721.9 359L722.1 379L722.3 388L722.4 383L722.6 365L722.8 366L723.0 379L723.2 387L723.3 382L723.5 374L723.7 378L723.9 412L724.0 390L724.2 394L724.4 378L724.6 384L724.8 400L724.9 380L725.1 377L725.3 393L725.5 435L725.6 405L725.8 422L726.0 398L726.2 392L726.4 380L726.5 393L726.7 445L726.9 408L727.1 414L727.2 414L727.4 404L727.6 401L727.8 407L728.0 415L728.1 413L728.3 497L728.5 409L728.7 395L728.8 403L729.0 379L729.2 423L729.4 376L729.6 401L729.7 444L729.9 403L730.1 390L730.3 407L730.4 427L730.6 403L730.8 416L731.0 408L731.2 401L731.3 446L731.5 407L731.7 397L731.9 397L732.0 410L732.2 410L732.4 415L732.6 405L732.8 381L732.9 410L733.1 397L733.3 397L733.5 378L733.6 391L733.8 389L734.0 399L734.2 376L734.4 399L734.5 400L734.7 380L734.9 387L735.1 383L735.2 410L735.4 355L735.6 389L735.8 367L736.0 386L736.1 406L736.3 372L736.5 395L736.7 377L736.8 420L737.0 416L737.2 405L737.4 364L737.6 367L737.7 400L737.9 375L738.1 376L738.3 383L738.4 356L738.6 387L738.8 373L739.0 378L739.1 356L739.3 373L739.5 349L739.7 374L739.9 373L740.0 365L740.2 353L740.4 361L740.6 300L740.7 353L740.9 325L741.1 324L741.3 309L741.5 280L741.6 288L741.8 303L742.0 310L742.2 256L742.3 237L742.5 272L742.7 209L742.9 301L743.1 202L743.2 167L743.4 201L743.6 196L743.8 41L743.9 74L744.1 -60L744.3 -60L744.5 -60L744.7 -60L744.8 -60L745.0 -60L745.2 -60L745.4 -60L745.5 -60L745.7 -60L745.9 -60L746.1 -60L746.3 -60L746.4 -60L746.6 -60L746.8 -60L747.0 -60L747.1 -60L747.3 -60L747.5 -60L747.7 -60L747.9 -60L748.0 -60L748.2 -60L748.4 -60L748.6 -60L748.7 -60L748.9 -60L749.1 -60L749.3 -60L749.5 -60L749.6 -60L749.8 -60L750.0 -60L750.2 -60L750.3 -60L750.5 -60L750.7 -60L750.9 -60L751.1 -60L751.2 -60L751.4 -60L751.6 -60L751.8 -60L751.9 -60L752.1 -60L752.3 -60L752.5 -60L752.7 -60L752.8 -60L753.0 -60L753.2 -60L753.4 -60L753.5 -60L753.7 -60L753.9 -60L754.1 3L754.3 147L754.4 159L754.6 204L754.8 171L755.0 235L755.1 198L755.3 247L755.5 206L755.7 239L755.8 281L756.0 250L756.2 274L756.4 270L756.6 201L756.7 299L756.9 316L757.1 286L757.3 324L757.4 303L757.6 302L757.8 319L758.0 314L758.2 409L758.3 278L758.5 348L758.7 356L758.9 307L759.0 314L759.2 450L759.4 333L759.6 358L759.8 374L759.9 351L760.1 342L760.3 318L760.5 371L760.6 351L760.8 374L761.0 375L761.2 329L761.4 403L761.5 395L761.7 392L761.9 361L762.1 375L762.2 366L762.4 378L762.6 351L762.8 401L763.0 396L763.1 396L763.3 383L763.5 412L763.7 396L763.8 353L764.0 385L764.2 395L764.4 412L764.6 393L764.7 395L764.9 390L765.1 411L765.3 395L765.4 394L765.6 393L765.8 413L766.0 398L766.2 381L766.3 426L766.5 398L766.7 414L766.9 415L767.0 428L767.2 427L767.4 403L767.6 407L767.8 374L767.9 438L768.1 420L768.3 434L768.5 409L768.6 383L768.8 437L769.0 416L769.2 417L769.4 416L769.5 425L769.7 423L769.9 392L770.1 432L770.2 408L770.4 402L770.6 442L770.8 430L771.0 412L771.1 389L771.3 419L771.5 425L771.7 416L771.8 399L772.0 406L772.2 400L772.4 425L772.5 442L772.7 448L772.9 398L773.1 426L773.3 428L773.4 412L773.6 418L773.8 451L774.0 426L774.1 433L774.3 414L774.5 422L774.7 396L774.9 421L775.0 439L775.2 452L775.4 439L775.6 432L775.7 423L775.9 406L776.1 421L776.3 432L776.5 401L776.6 437L776.8 410L777.0 374L777.2 410L777.3 352L777.5 405L777.7 457L777.9 420L778.1 429L778.2 459L778.4 444L778.6 419L778.8 446L778.9 433L779.1 427L779.3 434L779.5 407L779.7 417L779.8 427L780.0 437L780.2 424L780.4 427L780.5 443L780.7 450L780.9 441L781.1 449L781.3 425L781.4 427L781.6 436L781.8 427L782.0 425L782.1 456L782.3 430L782.5 406L782.7 440L782.9 459L783.0 435L783.2 451L783.4 428L783.6 427L783.7 425L783.9 433L784.1 461L784.3 419L784.5 459L784.6 422L784.8 433L785.0 448L785.2 446L785.3 441L785.5 414L785.7 443L785.9 424L786.1 500L786.2 435L786.4 441L786.6 423L786.8 432L786.9 421L787.1 466L787.3 487L787.5 455L787.7 421L787.8 433L788.0 457L788.2 426L788.4 415L788.5 445L788.7 424L788.9 428L789.1 464L789.2 428L789.4 452L789.6 430L789.8 460L790.0 458L790.1 433L790.3 436L790.5 428L790.7 445L790.8 455L791.0 419L791.2 452L791.4 421L791.6 427L791.7 391L791.9 468L792.1 440L792.3 442L792.4 421L792.6 454L792.8 410L793.0 439L793.2 470L793.3 434L793.5 439L793.7 457L793.9 427L794.0 439L794.2 451L794.4 440L794.6 447L794.8 432L794.9 441L795.1 437L795.3 456L795.5 445L795.6 431L795.8 371L796.0 443L796.2 442L796.4 418L796.5 401L796.7 412L796.9 441L797.1 411L797.2 419L797.4 427L797.6 441L797.8 422L798.0 419L798.1 411L798.3 442L798.5 433L798.7 414L798.8 393L799.0 401L799.2 420L799.4 399L799.6 422L799.7 412L799.9 410L800.1 414L800.3 417L800.4 388L800.6 389L800.8 434L801.0 380L801.2 387L801.3 426L801.5 387L801.7 377L801.9 373L802.0 396L802.2 402L802.4 428L802.6 384L802.8 398L802.9 364L803.1 381L803.3 468L803.5 379L803.6 387L803.8 391L804.0 356L804.2 391L804.4 361L804.5 351L804.7 363L804.9 348L805.1 362L805.2 365L805.4 354L805.6 364L805.8 346L805.9 348L806.1 336L806.3 341L806.5 336L806.7 336L806.8 336L807.0 340L807.2 336L807.4 336L807.5 341L807.7 357L807.9 363L808.1 368L808.3 376L808.4 363L808.6 355L808.8 340L809.0 340L809.1 349L809.3 361L809.5 364L809.7 356L809.9 353L810.0 366L810.2 362L810.4 359L810.6 357L810.7 336L810.9 336L811.1 354L811.3 357L811.5 336L811.6 333L811.8 382L812.0 336L812.2 347L812.3 360L812.5 345L812.7 368L812.9 400L813.1 404L813.2 388L813.4 391L813.6 386L813.8 402L813.9 387L814.1 385L814.3 396L814.5 424L814.7 404L814.8 411L815.0 387L815.2 423L815.4 442L815.5 429L815.7 406L815.9 399L816.1 418L816.3 400L816.4 427L816.6 403L816.8 434L817.0 441L817.1 406L817.3 428L817.5 415L817.7 410L817.9 419L818.0 426L818.2 445L818.4 415L818.6 448L818.7 462L818.9 444L819.1 451L819.3 437L819.5 422L819.6 447L819.8 446L820.0 451L820.2 477L820.3 453L820.5 449L820.7 466L820.9 409L821.1 430L821.2 441L821.4 438L821.6 456L821.8 443L821.9 471L822.1 469L822.3 459L822.5 444L822.6 493L822.8 461L823.0 422L823.2 455L823.4 460L823.5 454L823.7 473L823.9 468L824.1 441L824.2 454L824.4 432L824.6 461L824.8 442L825.0 478L825.1 465L825.3 468L825.5 454L825.7 437L825.8 479L826.0 454L826.2 475L826.4 463L826.6 466L826.7 482L826.9 463L827.1 477L827.3 439L827.4 470L827.6 456L827.8 458L828.0 460L828.2 464L828.3 481L828.5 413L828.7 461L828.9 451L829.0 476L829.2 455L829.4 467L829.6 456L829.8 470L829.9 474L830.1 456L830.3 462L830.5 443L830.6 466L830.8 473L831.0 455L831.2 477L831.4 436L831.5 439L831.7 445L831.9 457L832.1 463L832.2 462L832.4 463L832.6 473L832.8 458L833.0 448L833.1 448L833.3 491L833.5 434L833.7 462L833.8 483L834.0 505L834.2 454L834.4 464L834.6 475L834.7 479L834.9 452L835.1 474L835.3 467L835.4 478L835.6 498L835.8 459L836.0 445L836.2 468L836.3 486L836.5 472L836.7 466L836.9 493L837.0 436L837.2 474L837.4 455L837.6 463L837.8 464L837.9 481L838.1 450L838.3 455L838.5 441L838.6 473L838.8 455L839.0 466L839.2 447L839.3 456L839.5 474L839.7 458L839.9 468L840.1 467L840.2 455L840.4 440L840.6 473L840.8 462L840.9 484L841.1 433L841.3 438L841.5 431L841.7 447L841.8 472L842.0 466L842.2 458L842.4 460L842.5 468L842.7 451L842.9 463L843.1 460L843.3 430L843.4 453L843.6 476L843.8 453L844.0 456L844.1 450L844.3 446L844.5 486L844.7 454L844.9 444L845.0 424L845.2 450L845.4 432L845.6 434L845.7 468L845.9 467L846.1 409L846.3 469L846.5 464L846.6 438L846.8 467L847.0 437L847.2 442L847.3 439L847.5 443L847.7 469L847.9 440L848.1 443L848.2 445L848.4 460L848.6 453L848.8 469L848.9 449L849.1 441L849.3 451L849.5 458L849.7 446L849.8 461L850.0 504L850.2 450L850.4 458L850.5 476L850.7 449L850.9 447L851.1 444L851.3 468L851.4 465L851.6 456L851.8 459L852.0 475L852.1 469L852.3 422L852.5 458L852.7 459L852.9 467L853.0 455L853.2 441L853.4 446L853.6 435L853.7 458L853.9 450L854.1 464L854.3 445L854.5 453L854.6 446L854.8 444L855.0 467L855.2 452L855.3 464L855.5 444L855.7 460L855.9 436L856.0 452L856.2 452L856.4 466L856.6 461L856.8 456L856.9 469L857.1 461L857.3 466L857.5 469L857.6 458L857.8 455L858.0 463L858.2 453L858.4 408L858.5 473L858.7 470L858.9 454L859.1 442L859.2 458L859.4 455L859.6 473L859.8 454L860.0 456L860.1 468L860.3 452L860.5 457L860.7 481L860.8 496L861.0 467L861.2 462L861.4 446L861.6 465L861.7 459L861.9 461L862.1 451L862.3 517L862.4 455L862.6 461L862.8 493L863.0 462L863.2 435L863.3 444L863.5 436L863.7 446L863.9 464L864.0 462L864.2 448L864.4 460L864.6 446L864.8 437L864.9 419L865.1 444L865.3 474L865.5 438L865.6 472L865.8 473L866.0 453L866.2 454L866.4 447L866.5 454L866.7 463L866.9 454L867.1 467L867.2 470L867.4 459L867.6 458L867.8 453L868.0 458L868.1 424L868.3 459L868.5 456L868.7 442L868.8 481L869.0 440L869.2 441L869.4 459L869.6 401L869.7 430L869.9 431L870.1 438L870.3 449L870.4 455L870.6 465L870.8 461L871.0 465L871.2 464L871.3 442L871.5 463L871.7 441L871.9 439L872.0 467L872.2 466L872.4 451L872.6 455L872.7 457L872.9 429L873.1 442L873.3 428L873.5 444L873.6 432L873.8 460L874.0 447L874.2 428L874.3 438L874.5 423L874.7 437L874.9 443L875.1 438L875.2 418L875.4 427L875.6 438L875.8 433L875.9 444L876.1 410L876.3 430L876.5 410L876.7 419L876.8 419L877.0 418L877.2 394L877.4 400L877.5 376L877.7 369L877.9 388L878.1 373L878.3 365L878.4 368L878.6 376L878.8 405L879.0 402L879.1 404L879.3 382L879.5 398L879.7 419L879.9 415L880.0 419L880.2 412L880.4 443L880.6 441L880.7 419L880.9 407L881.1 453L881.3 416L881.5 458L881.6 453L881.8 412L882.0 431L882.2 422L882.3 435L882.5 432L882.7 456L882.9 437L883.1 429L883.2 460L883.4 426L883.6 424L883.8 462L883.9 418L884.1 423L884.3 431L884.5 416L884.7 416L884.8 446L885.0 416L885.2 424L885.4 426L885.5 418L885.7 417L885.9 434L886.1 466L886.3 443L886.4 443L886.6 411L886.8 432L887.0 416L887.1 444L887.3 430L887.5 434L887.7 432L887.9 426L888.0 412L888.2 442L888.4 415L888.6 418L888.7 430L888.9 425L889.1 438L889.3 449L889.4 441L889.6 438L889.8 436L890.0 390L890.2 384L890.3 441L890.5 423L890.7 419L890.9 436L891.0 431L891.2 445L891.4 466L891.6 404L891.8 503L891.9 464L892.1 449L892.3 458L892.5 439L892.6 418L892.8 422L893.0 448L893.2 452L893.4 428L893.5 435L893.7 442L893.9 415L894.1 434L894.2 462L894.4 498L894.6 438L894.8 465L895.0 425L895.1 417L895.3 409L895.5 453L895.7 435L895.8 473L896.0 445L896.2 443L896.4 416L896.6 462L896.7 436L896.9 439L897.1 411L897.3 466L897.4 455L897.6 434L897.8 444L898.0 448L898.2 456L898.3 445L898.5 466L898.7 440L898.9 435L899.0 437L899.2 409L899.4 433L899.6 458L899.8 450L899.9 433L900.1 449L900.3 417L900.5 441L900.6 452L900.8 455L901.0 435L901.2 469L901.4 471L901.5 441L901.7 457L901.9 405L902.1 421L902.2 456L902.4 448L902.6 451L902.8 440L903.0 445L903.1 460L903.3 472L903.5 446L903.7 427L903.8 467L904.0 458L904.2 460L904.4 453L904.6 482L904.7 452L904.9 458L905.1 403L905.3 444L905.4 443L905.6 452L905.8 457L906.0 443L906.1 476L906.3 440L906.5 448L906.7 457L906.9 438L907.0 469L907.2 463L907.4 451L907.6 481L907.7 457L907.9 460L908.1 444L908.3 435L908.5 449L908.6 453L908.8 451L909.0 468L909.2 427L909.3 443L909.5 434L909.7 476L909.9 443L910.1 445L910.2 444L910.4 470L910.6 453L910.8 461L910.9 432L911.1 474L911.3 464L911.5 472L911.7 474L911.8 456L912.0 456L912.2 467L912.4 463L912.5 454L912.7 458L912.9 451L913.1 467L913.3 469L913.4 457L913.6 482L913.8 437L914.0 450L914.1 479L914.3 451L914.5 436L914.7 475L914.9 463L915.0 441L915.2 466L915.4 443L915.6 438L915.7 454L915.9 449L916.1 427L916.3 451L916.5 442L916.6 456L916.8 455L917.0 465L917.2 443L917.3 437L917.5 437L917.7 451L917.9 475L918.1 466L918.2 446L918.4 467L918.6 439L918.8 467L918.9 449L919.1 464L919.3 462L919.5 450L919.7 458L919.8 425L920.0 452L920.2 468L920.4 488L920.5 462L920.7 454L920.9 439L921.1 467L921.3 431L921.4 442L921.6 457L921.8 437L922.0 473L922.1 467L922.3 445L922.5 437L922.7 435L922.8 433L923.0 458L923.2 468L923.4 460L923.6 455L923.7 444L923.9 457L924.1 432L924.3 452L924.4 471L924.6 469L924.8 445L925.0 447L925.2 487L925.3 475L925.5 431L925.7 445L925.9 454L926.0 482L926.2 440L926.4 459L926.6 447L926.8 482L926.9 461L927.1 449L927.3 446L927.5 464L927.6 459L927.8 436L928.0 453L928.2 432L928.4 440L928.5 432L928.7 414L928.9 440L929.1 436L929.2 457L929.4 460L929.6 446L929.8 434L930.0 518L930.1 395L930.3 423L930.5 459L930.7 458L930.8 462L931.0 446L931.2 431L931.4 442L931.6 456L931.7 438L931.9 439L932.1 429L932.3 432L932.4 469L932.6 454L932.8 432L933.0 418L933.2 440L933.3 455L933.5 431L933.7 445L933.9 418L934.0 430L934.2 452L934.4 459L934.6 431L934.8 436L934.9 457L935.1 441L935.3 439L935.5 453L935.6 448L935.8 475L936.0 466L936.2 438L936.4 444L936.5 444L936.7 427L936.9 432L937.1 458L937.2 423L937.4 458L937.6 448L937.8 440L938.0 452L938.1 451L938.3 461L938.5 438L938.7 441L938.8 440L939.0 469L939.2 457L939.4 418L939.5 439L939.7 434L939.9 443L940.1 446L940.3 474L940.4 418L940.6 470L940.8 449L941.0 433L941.1 440L941.3 436L941.5 443L941.7 469L941.9 421L942.0 460L942.2 437L942.4 463L942.6 447L942.7 459L942.9 456L943.1 470L943.3 442L943.5 426L943.6 450L943.8 451L944.0 470L944.2 425L944.3 435L944.5 455L944.7 425L944.9 433L945.1 469L945.2 459L945.4 427L945.6 459L945.8 471L945.9 449L946.1 443L946.3 441L946.5 425L946.7 429L946.8 446L947.0 437L947.2 460L947.4 428L947.5 416L947.7 425L947.9 435L948.1 435L948.3 423L948.4 402L948.6 434L948.8 396L949.0 411L949.1 391L949.3 387L949.5 439L949.7 390L949.9 392L950.0 420L950.2 413L950.4 443L950.6 424L950.7 422L950.9 461L951.1 429L951.3 432L951.5 420L951.6 425L951.8 446L952.0 445L952.2 438L952.3 429L952.5 449L952.7 424L952.9 436L953.1 434L953.2 429L953.4 444L953.6 433L953.8 431L953.9 467L954.1 453L954.3 460L954.5 445L954.7 457L954.8 455L955.0 477L955.2 477L955.4 442L955.5 449L955.7 445L955.9 431L956.1 431L956.2 447L956.4 456L956.6 440L956.8 463L957.0 465L957.1 443L957.3 468L957.5 508L957.7 455L957.8 436L958.0 469L958.2 448L958.4 445L958.6 452L958.7 444L958.9 465L959.1 462L959.3 468L959.4 467L959.6 441L959.8 450L960.0 464L960.2 447L960.3 502L960.5 450L960.7 446L960.9 469L961.0 464L961.2 454L961.4 451L961.6 460L961.8 466L961.9 465L962.1 448L962.3 461L962.5 467L962.6 466L962.8 422L963.0 445L963.2 437L963.4 454L963.5 460L963.7 470L963.9 473L964.1 456L964.2 459L964.4 481L964.6 451L964.8 463L965.0 480L965.1 464L965.3 433L965.5 465L965.7 455L965.8 459L966.0 474L966.2 467L966.4 457L966.6 472L966.7 466L966.9 462L967.1 465L967.3 464L967.4 452L967.6 455L967.8 462L968.0 437L968.2 445L968.3 494L968.5 458L968.7 460L968.9 459L969.0 460L969.2 460L969.4 461L969.6 449L969.8 483L969.9 450L970.1 473L970.3 434L970.5 445L970.6 472L970.8 457L971.0 442L971.2 463L971.4 445L971.5 459L971.7 429L971.9 446L972.1 441L972.2 465L972.4 469L972.6 446L972.8 478L972.9 450L973.1 430L973.3 426L973.5 496L973.7 456L973.8 449L974.0 447L974.2 443L974.4 475L974.5 456L974.7 481L974.9 452L975.1 426L975.3 468L975.4 448L975.6 454L975.8 478L976.0 454L976.1 473L976.3 457L976.5 448L976.7 508L976.9 442L977.0 474L977.2 470L977.4 458L977.6 466L977.7 465L977.9 454L978.1 469L978.3 455L978.5 466L978.6 445L978.8 459L979.0 468L979.2 448L979.3 447L979.5 451L979.7 467L979.9 449L980.1 469L980.2 478L980.4 463L980.6 437L980.8 460L980.9 472L981.1 454L981.3 487L981.5 466L981.7 464L981.8 452L982.0 452L982.2 455L982.4 460L982.5 465L982.7 464L982.9 455L983.1 459L983.3 464L983.4 437L983.6 449L983.8 448L984.0 456L984.1 455L984.3 455L984.5 447L984.7 468L984.9 462L985.0 417L985.2 459L985.4 444L985.6 481L985.7 453L985.9 449L986.1 460L986.3 454L986.5 458L986.6 479L986.8 462L987.0 470L987.2 474L987.3 446L987.5 502L987.7 468L987.9 471L988.1 448L988.2 470L988.4 464L988.6 452L988.8 489L988.9 466L989.1 456L989.3 461L989.5 471L989.7 473L989.8 466L990.0 474L990.2 478L990.4 427L990.5 452L990.7 446L990.9 460L991.1 477L991.2 467L991.4 445L991.6 454L991.8 472L992.0 445L992.1 457L992.3 462L992.5 412L992.7 468L992.8 467L993.0 465L993.2 445L993.4 448L993.6 450L993.7 465L993.9 459L994.1 459L994.3 481L994.4 475L994.6 448L994.8 449L995.0 515L995.2 453L995.3 493L995.5 478L995.7 450L995.9 454L996.0 459L996.2 446L996.4 445L996.6 452L996.8 468L996.9 451L997.1 455L997.3 451L997.5 439L997.6 477L997.8 426L998.0 448L998.2 464L998.4 439L998.5 473L998.7 473L998.9 446L999.1 460L999.2 429L999.4 463L999.6 458L999.8 459L1000.0 475L1000.1 463L1000.3 474L1000.5 473L1000.7 426L1000.8 463L1001.0 463L1001.2 437L1001.4 474L1001.6 457L1001.7 466L1001.9 444L1002.1 458L1002.3 460L1002.4 452L1002.6 457L1002.8 428L1003.0 474L1003.2 441L1003.3 427L1003.5 443L1003.7 445L1003.9 463L1004.0 444L1004.2 460L1004.4 443L1004.6 502L1004.8 470L1004.9 481L1005.1 442L1005.3 464L1005.5 443L1005.6 463L1005.8 464L1006.0 415L1006.2 440L1006.4 440L1006.5 435L1006.7 437L1006.9 443L1007.1 436L1007.2 456L1007.4 462L1007.6 438L1007.8 448L1007.9 455L1008.1 452L1008.3 437L1008.5 466L1008.7 477L1008.8 464L1009.0 452L1009.2 481L1009.4 478L1009.5 449L1009.7 453L1009.9 470L1010.1 444L1010.3 460L1010.4 455L1010.6 445L1010.8 451L1011.0 434L1011.1 440L1011.3 428L1011.5 484L1011.7 474L1011.9 470L1012.0 458L1012.2 467L1012.4 471L1012.6 467L1012.7 466L1012.9 442L1013.1 460L1013.3 440L1013.5 438L1013.6 439L1013.8 459L1014.0 468L1014.2 435L1014.3 477L1014.5 473L1014.7 448L1014.9 447L1015.1 513L1015.2 466L1015.4 448L1015.6 439L1015.8 458L1015.9 426L1016.1 455L1016.3 469L1016.5 461L1016.7 463L1016.8 460L1017.0 472L1017.2 455L1017.4 442L1017.5 450L1017.7 452L1017.9 470L1018.1 474L1018.3 464L1018.4 443L1018.6 443L1018.8 450L1019.0 471L1019.1 457L1019.3 452L1019.5 442L1019.7 464L1019.9 456L1020.0 410L1020.2 454L1020.4 475L1020.6 450L1020.7 475L1020.9 469L1021.1 454L1021.3 464L1021.5 450L1021.6 441L1021.8 445L1022.0 440L1022.2 459L1022.3 452L1022.5 459L1022.7 463L1022.9 417L1023.1 456L1023.2 405L1023.4 454L1023.6 440L1023.8 453L1023.9 470L1024.1 429L1024.3 454L1024.5 450L1024.6 426L1024.8 460L1025.0 452L1025.2 445L1025.4 442L1025.5 486L1025.7 446L1025.9 427L1026.1 439L1026.2 446L1026.4 446L1026.6 450L1026.8 437L1027.0 458L1027.1 444L1027.3 433L1027.5 440L1027.7 446L1027.8 473L1028.0 457L1028.2 446L1028.4 451L1028.6 454L1028.7 478L1028.9 442L1029.1 457L1029.3 460L1029.4 438L1029.6 453L1029.8 455L1030.0 444L1030.2 458L1030.3 464L1030.5 465L1030.7 445L1030.9 453L1031.0 482L1031.2 435L1031.4 453L1031.6 462L1031.8 454L1031.9 459L1032.1 454L1032.3 460L1032.5 467L1032.6 447L1032.8 452L1033.0 449L1033.2 444L1033.4 449L1033.5 420L1033.7 459L1033.9 494L1034.1 472L1034.2 466L1034.4 436L1034.6 470L1034.8 439L1035.0 448L1035.1 474L1035.3 434L1035.5 460L1035.7 453L1035.8 447L1036.0 437L1036.2 454L1036.4 436L1036.6 463L1036.7 465L1036.9 430L1037.1 441L1037.3 444L1037.4 432L1037.6 419L1037.8 449L1038.0 443L1038.2 426L1038.3 441L1038.5 455L1038.7 431L1038.9 435L1039.0 469L1039.2 465L1039.4 426L1039.6 429L1039.8 452L1039.9 416L1040.1 444L1040.3 441L1040.5 455L1040.6 413L1040.8 417L1041.0 430L1041.2 461L1041.3 445L1041.5 424L1041.7 453L1041.9 456L1042.1 443L1042.2 442L1042.4 452L1042.6 463L1042.8 448L1042.9 454L1043.1 446L1043.3 441L1043.5 434L1043.7 450L1043.8 442L1044.0 443L1044.2 459L1044.4 452L1044.5 458L1044.7 404L1044.9 453L1045.1 438L1045.3 435L1045.4 434L1045.6 462L1045.8 457L1046.0 436L1046.1 430L1046.3 445L1046.5 439L1046.7 468L1046.9 425L1047.0 397L1047.2 442L1047.4 445L1047.6 447L1047.7 455L1047.9 473L1048.1 440L1048.3 438L1048.5 421L1048.6 452L1048.8 457L1049.0 442L1049.2 477L1049.3 446L1049.5 466L1049.7 450L1049.9 431L1050.1 437L1050.2 424L1050.4 399L1050.6 449L1050.8 457L1050.9 472L1051.1 445L1051.3 442L1051.5 430L1051.7 459L1051.8 451L1052.0 437L1052.2 455L1052.4 453L1052.5 396L1052.7 456L1052.9 447L1053.1 440L1053.3 440L1053.4 469L1053.6 467L1053.8 471L1054.0 430L1054.1 437L1054.3 458L1054.5 429L1054.7 436L1054.9 421L1055.0 471L1055.2 460L1055.4 452L1055.6 449L1055.7 435L1055.9 441L1056.1 454L1056.3 436L1056.5 463L1056.6 439L1056.8 434L1057.0 464L1057.2 442L1057.3 454L1057.5 440L1057.7 416L1057.9 454L1058.0 428L1058.2 461L1058.4 425L1058.6 421L1058.8 450L1058.9 452L1059.1 448L1059.3 430L1059.5 458L1059.6 426L1059.8 440L1060.0 436L1060.2 441L1060.4 458L1060.5 438L1060.7 454L1060.9 456L1061.1 423L1061.2 431L1061.4 441L1061.6 439L1061.8 451L1062.0 420L1062.1 456L1062.3 466L1062.5 444L1062.7 428L1062.8 447L1063.0 439L1063.2 454L1063.4 446L1063.6 457L1063.7 441L1063.9 466L1064.1 416L1064.3 433L1064.4 454L1064.6 407L1064.8 457L1065.0 397L1065.2 448L1065.3 435L1065.5 441L1065.7 449L1065.9 444L1066.0 437L1066.2 476L1066.4 447L1066.6 434L1066.8 471L1066.9 458L1067.1 464L1067.3 471L1067.5 422L1067.6 461L1067.8 462L1068.0 447L1068.2 450L1068.4 412L1068.5 432L1068.7 471L1068.9 423L1069.1 440L1069.2 451L1069.4 462L1069.6 469L1069.8 423L1070.0 448L1070.1 459L1070.3 412L1070.5 446L1070.7 472L1070.8 482L1071.0 454L1071.2 412L1071.4 444L1071.6 457L1071.7 443L1071.9 446L1072.1 482L1072.3 444L1072.4 434L1072.6 450L1072.8 443L1073.0 439L1073.2 446L1073.3 467L1073.5 450L1073.7 431L1073.9 445L1074.0 453L1074.2 441L1074.4 463L1074.6 457L1074.7 434L1074.9 455L1075.1 474L1075.3 468L1075.5 446L1075.6 459L1075.8 438L1076.0 427L1076.2 462L1076.3 450L1076.5 454L1076.7 447L1076.9 456L1077.1 440L1077.2 453L1077.4 469L1077.6 446L1077.8 468L1077.9 423L1078.1 436L1078.3 485L1078.5 471L1078.7 454L1078.8 446L1079.0 430L1079.2 452L1079.4 457L1079.5 427L1079.7 455L1079.9 460L1080.1 453L1080.3 417L1080.4 461L1080.6 427L1080.8 467L1081.0 451L1081.1 431L1081.3 465L1081.5 463L1081.7 438L1081.9 477L1082.0 433L1082.2 455L1082.4 463L1082.6 416L1082.7 461L1082.9 446L1083.1 447L1083.3 432L1083.5 451L1083.6 432L1083.8 434L1084.0 441L1084.2 430L1084.3 468L1084.5 412L1084.7 437L1084.9 443L1085.1 447L1085.2 458L1085.4 458L1085.6 443L1085.8 442L1085.9 447L1086.1 458L1086.3 456L1086.5 440L1086.7 403L1086.8 476L1087.0 498L1087.2 451L1087.4 452L1087.5 440L1087.7 434L1087.9 443L1088.1 444L1088.3 439L1088.4 428L1088.6 443L1088.8 463L1089.0 441L1089.1 448L1089.3 419L1089.5 445L1089.7 444L1089.9 431L1090.0 424L1090.2 453L1090.4 426L1090.6 461L1090.7 442L1090.9 456L1091.1 443L1091.3 428L1091.4 447L1091.6 444L1091.8 457L1092.0 442L1092.2 443L1092.3 471L1092.5 464L1092.7 458L1092.9 476L1093.0 454L1093.2 459L1093.4 460L1093.6 454L1093.8 450L1093.9 450L1094.1 504L1094.3 449L1094.5 442L1094.6 444L1094.8 448L1095.0 452L1095.2 434L1095.4 422L1095.5 453L1095.7 427L1095.9 452L1096.1 451L1096.2 464L1096.4 493L1096.6 454L1096.8 442L1097.0 433L1097.1 439L1097.3 450L1097.5 421L1097.7 451L1097.8 449L1098.0 458L1098.2 445L1098.4 451L1098.6 440L1098.7 443L1098.9 426L1099.1 451L1099.3 470L1099.4 452L1099.6 454L1099.8 436L1100.0 487L1100.2 429L1100.3 460L1100.5 451L1100.7 436L1100.9 463L1101.0 449L1101.2 451L1101.4 455L1101.6 448L1101.8 443L1101.9 454L1102.1 443L1102.3 449L1102.5 430L1102.6 427L1102.8 430L1103.0 441L1103.2 448L1103.4 463L1103.5 424L1103.7 448L1103.9 417L1104.1 432L1104.2 439L1104.4 415L1104.6 421L1104.8 448L1105.0 447L1105.1 444L1105.3 434L1105.5 475L1105.7 443L1105.8 433L1106.0 468L1106.2 453L1106.4 439L1106.6 461L1106.7 446L1106.9 453L1107.1 450L1107.3 430L1107.4 457L1107.6 446L1107.8 429L1108.0 433L1108.1 468L1108.3 438L1108.5 443L1108.7 451L1108.9 444L1109.0 401L1109.2 450L1109.4 467L1109.6 453L1109.7 463L1109.9 446L1110.1 451L1110.3 462L1110.5 436L1110.6 463L1110.8 463L1111.0 450L1111.2 464L1111.3 450L1111.5 421L1111.7 453L1111.9 441L1112.1 442L1112.2 438L1112.4 472L1112.6 442L1112.8 424L1112.9 441L1113.1 444L1113.3 422L1113.5 426L1113.7 426L1113.8 423L1114.0 436L1114.2 458L1114.4 456L1114.5 446L1114.7 443L1114.9 459L1115.1 445L1115.3 419L1115.4 433L1115.6 426L1115.8 417L1116.0 410L1116.1 405L1116.3 404L1116.5 387L1116.7 405L1116.9 390L1117.0 385L1117.2 385L1117.4 372L1117.6 375L1117.7 388L1117.9 380L1118.1 386L1118.3 391L1118.5 435L1118.6 399L1118.8 425L1119.0 441L1119.2 415L1119.3 446L1119.5 476L1119.7 451L1119.9 459L1120.1 435L1120.2 416L1120.4 434L1120.6 420L1120.8 411L1120.9 411L1121.1 461L1121.3 420L1121.5 427L1121.7 500L1121.8 429L1122.0 424L1122.2 421L1122.4 411L1122.5 411L1122.7 416L1122.9 434L1123.1 456L1123.3 440L1123.4 450L1123.6 437L1123.8 420L1124.0 404L1124.1 418L1124.3 399L1124.5 407L1124.7 456L1124.8 407L1125.0 413L1125.2 382L1125.4 370L1125.6 370L1125.7 367L1125.9 398L1126.1 416L1126.3 380L1126.4 393L1126.6 403L1126.8 405L1127.0 398L1127.2 419L1127.3 425L1127.5 428L1127.7 407L1127.9 424L1128.0 410L1128.2 441L1128.4 414L1128.6 422L1128.8 423L1128.9 422L1129.1 416L1129.3 415L1129.5 456L1129.6 436L1129.8 436L1130.0 463L1130.2 432L1130.4 450L1130.5 435L1130.7 451L1130.9 442L1131.1 440L1131.2 432L1131.4 440L1131.6 453L1131.8 420L1132.0 435L1132.1 431L1132.3 430L1132.5 421L1132.7 459L1132.8 427L1133.0 436L1133.2 432L1133.4 416L1133.6 433L1133.7 414L1133.9 427L1134.1 436L1134.3 441L1134.4 442L1134.6 439L1134.8 471L1135.0 395L1135.2 425L1135.3 433L1135.5 433L1135.7 440L1135.9 434L1136.0 431L1136.2 465L1136.4 444L1136.6 438L1136.8 437L1136.9 440L1137.1 463L1137.3 450L1137.5 459L1137.6 408L1137.8 449L1138.0 459L1138.2 471L1138.4 445L1138.5 421L1138.7 453L1138.9 437L1139.1 421L1139.2 437L1139.4 474L1139.6 478L1139.8 465L1140.0 431L1140.1 480L1140.3 430L1140.5 445L1140.7 427L1140.8 464L1141.0 452L1141.2 459L1141.4 448L1141.5 446L1141.7 449L1141.9 421L1142.1 460L1142.3 471L1142.4 441L1142.6 447L1142.8 455L1143.0 468L1143.1 459L1143.3 447L1143.5 439L1143.7 426L1143.9 438L1144.0 447L1144.2 443L1144.4 447L1144.6 456L1144.7 452L1144.9 488L1145.1 454L1145.3 451L1145.5 445L1145.6 452L1145.8 421L1146.0 462L1146.2 427L1146.3 456L1146.5 445L1146.7 475L1146.9 445L1147.1 431L1147.2 459L1147.4 447L1147.6 448L1147.8 445L1147.9 458L1148.1 455L1148.3 447L1148.5 403L1148.7 433L1148.8 445L1149.0 492L1149.2 448L1149.4 442L1149.5 476L1149.7 441L1149.9 442L1150.1 445L1150.3 422L1150.4 456L1150.6 448L1150.8 378L1151.0 427L1151.1 445L1151.3 462L1151.5 433L1151.7 427L1151.9 448L1152.0 420L1152.2 411L1152.4 436L1152.6 424L1152.7 490L1152.9 434L1153.1 446L1153.3 439L1153.5 433L1153.6 430L1153.8 450L1154.0 455L1154.2 454L1154.3 451L1154.5 405L1154.7 427L1154.9 437L1155.1 444L1155.2 419L1155.4 461L1155.6 445L1155.8 425L1155.9 443L1156.1 436L1156.3 430L1156.5 448L1156.7 429L1156.8 403L1157.0 432L1157.2 439L1157.4 426L1157.5 458L1157.7 425L1157.9 465L1158.1 453L1158.2 427L1158.4 442L1158.6 473L1158.8 438L1159.0 424L1159.1 444L1159.3 468L1159.5 419L1159.7 448L1159.8 440L1160.0 438L1160.2 434L1160.4 435L1160.6 469L1160.7 448L1160.9 425L1161.1 461L1161.3 421L1161.4 448L1161.6 445L1161.8 456L1162.0 444L1162.2 453L1162.3 438L1162.5 452L1162.7 443L1162.9 468L1163.0 429L1163.2 455L1163.4 445L1163.6 444L1163.8 430L1163.9 451L1164.1 417L1164.3 418L1164.5 447L1164.6 416L1164.8 457L1165.0 433L1165.2 441L1165.4 440L1165.5 449L1165.7 433L1165.9 432L1166.1 435L1166.2 451L1166.4 452L1166.6 454L1166.8 441L1167.0 432L1167.1 391L1167.3 455L1167.5 448L1167.7 430L1167.8 459L1168.0 454L1168.2 437L1168.4 450L1168.6 440L1168.7 411L1168.9 428L1169.1 429L1169.3 380L1169.4 422L1169.6 428L1169.8 421L1170.0 434L1170.2 435L1170.3 462L1170.5 445L1170.7 482L1170.9 437L1171.0 435L1171.2 435L1171.4 455L1171.6 369L1171.8 430L1171.9 437L1172.1 449L1172.3 417L1172.5 437L1172.6 444L1172.8 425L1173.0 404L1173.2 425L1173.4 412L1173.5 438L1173.7 415L1173.9 451L1174.1 425L1174.2 409L1174.4 410L1174.6 398L1174.8 417L1174.9 430L1175.1 411L1175.3 422L1175.5 372L1175.7 396L1175.8 420L1176.0 352L1176.2 390L1176.4 384L1176.5 326L1176.7 328L1176.9 330L1177.1 359L1177.3 328L1177.4 327L1177.6 339L1177.8 323L1178.0 320L1178.1 305L1178.3 328L1178.5 287L1178.7 329L1178.9 286L1179.0 272L1179.2 294L1179.4 269L1179.6 196L1179.7 226L1179.9 163L1180.1 93L1180.3 56L1180.5 -60L1180.6 -60L1180.8 -60L1181.0 -60L1181.2 -60L1181.3 -60L1181.5 -60L1181.7 -60L1181.9 -60L1182.1 -60L1182.2 -60L1182.4 -60L1182.6 -60L1182.8 -60L1182.9 -60L1183.1 -60L1183.3 -60L1183.5 -60L1183.7 -60L1183.8 -60L1184.0 -60L1184.2 -60L1184.4 -60L1184.5 -60L1184.7 -60L1184.9 -60L1185.1 -60L1185.3 -60L1185.4 -60L1185.6 -60L1185.8 -60L1186.0 -60L1186.1 -60L1186.3 -60L1186.5 -60L1186.7 -60L1186.9 -60L1187.0 -60L1187.2 -60L1187.4 -60L1187.6 -60L1187.7 -60L1187.9 -60L1188.1 -60L1188.3 -60L1188.5 -19L1188.6 43L1188.8 91L1189.0 122L1189.2 159L1189.3 184L1189.5 177L1189.7 191L1189.9 223L1190.1 220L1190.2 207L1190.4 227L1190.6 236L1190.8 259L1190.9 273L1191.1 280L1191.3 275L1191.5 297L1191.6 279L1191.8 232L1192.0 322L1192.2 302L1192.4 324L1192.5 329L1192.7 371L1192.9 349L1193.1 384L1193.2 381L1193.4 379L1193.6 379L1193.8 398L1194.0 502L1194.1 423L1194.3 431L1194.5 410L1194.7 412L1194.8 408L1195.0 413L1195.2 407L1195.4 399L1195.6 443L1195.7 360L1195.9 418L1196.1 421L1196.3 417L1196.4 401L1196.6 412L1196.8 408L1197.0 399L1197.2 414L1197.3 410L1197.5 408L1197.7 426L1197.9 400L1198.0 429L1198.2 358L1198.4 422L1198.6 417L1198.8 420L1198.9 402L1199.1 405L1199.3 404L1199.5 419L1199.6 428L1199.8 433L1200.0 402L1200.2 419L1200.4 393L1200.5 353L1200.7 404L1200.9 407L1201.1 394L1201.2 391L1201.4 425L1201.6 405L1201.8 392L1202.0 451L1202.1 422L1202.3 413L1202.5 427L1202.7 406L1202.8 441L1203.0 395L1203.2 398L1203.4 415L1203.6 406L1203.7 438L1203.9 394L1204.1 407L1204.3 421L1204.4 426L1204.6 433L1204.8 423L1205.0 450L1205.2 404L1205.3 421L1205.5 431L1205.7 413L1205.9 414L1206.0 411L1206.2 409L1206.4 402L1206.6 410L1206.8 396L1206.9 424L1207.1 395L1207.3 449L1207.5 444L1207.6 450L1207.8 416L1208.0 410L1208.2 437L1208.3 423L1208.5 434L1208.7 408L1208.9 435L1209.1 407L1209.2 422L1209.4 394L1209.6 410L1209.8 433L1209.9 413L1210.1 406L1210.3 431L1210.5 419L1210.7 438L1210.8 385L1211.0 429L1211.2 428L1211.4 398L1211.5 402L1211.7 434L1211.9 406L1212.1 412L1212.3 430L1212.4 417L1212.6 429L1212.8 409L1213.0 427L1213.1 438L1213.3 427L1213.5 360L1213.7 432L1213.9 424L1214.0 410L1214.2 444L1214.4 398L1214.6 451L1214.7 415L1214.9 447L1215.1 424L1215.3 405L1215.5 426L1215.6 430L1215.8 433L1216.0 440L1216.2 412L1216.3 433L1216.5 436L1216.7 422L1216.9 413L1217.1 413L1217.2 437L1217.4 438L1217.6 415L1217.8 408L1217.9 445L1218.1 383L1218.3 430L1218.5 404L1218.7 403L1218.8 430L1219.0 425L1219.2 449L1219.4 461L1219.5 426L1219.7 443L1219.9 444L1220.1 378L1220.3 417L1220.4 452L1220.6 424L1220.8 429L1221.0 426L1221.1 428L1221.3 422L1221.5 441L1221.7 448L1221.9 425L1222.0 411L1222.2 432L1222.4 410L1222.6 422L1222.7 449L1222.9 464L1223.1 441L1223.3 417L1223.5 443L1223.6 400L1223.8 422L1224.0 454L1224.2 443L1224.3 413L1224.5 409L1224.7 445L1224.9 432L1225.0 425L1225.2 439L1225.4 417L1225.6 380L1225.8 455L1225.9 425L1226.1 420L1226.3 416L1226.5 438L1226.6 423L1226.8 443L1227.0 431L1227.2 450L1227.4 430L1227.5 426L1227.7 381L1227.9 420L1228.1 446L1228.2 473L1228.4 419L1228.6 422L1228.8 441L1229.0 443L1229.1 427L1229.3 438L1229.5 414L1229.7 433L1229.8 460L1230.0 460L1230.2 432L1230.4 433L1230.6 443L1230.7 452L1230.9 450L1231.1 416L1231.3 442L1231.4 451L1231.6 427L1231.8 419L1232.0 444L1232.2 442L1232.3 463L1232.5 438L1232.7 428L1232.9 431L1233.0 423L1233.2 424L1233.4 429L1233.6 431L1233.8 453L1233.9 420L1234.1 437L1234.3 429L1234.5 458L1234.6 441L1234.8 432L1235.0 449L1235.2 438L1235.4 431L1235.5 459L1235.7 447L1235.9 461L1236.1 453L1236.2 448L1236.4 439L1236.6 422L1236.8 447L1237.0 439L1237.1 455L1237.3 437L1237.5 428L1237.7 423L1237.8 447L1238.0 455L1238.2 433L1238.4 444L1238.6 457L1238.7 426L1238.9 433L1239.1 407L1239.3 454L1239.4 444L1239.6 431L1239.8 414L1240.0 435L1240.2 451L1240.3 433L1240.5 432L1240.7 454L1240.9 420L1241.0 438L1241.2 446L1241.4 427L1241.6 426L1241.7 441L1241.9 436L1242.1 434L1242.3 440L1242.5 441L1242.6 425L1242.8 428L1243.0 444L1243.2 453L1243.3 456L1243.5 426L1243.7 453L1243.9 448L1244.1 437L1244.2 444L1244.4 459L1244.6 462L1244.8 423L1244.9 453L1245.1 436L1245.3 435L1245.5 453L1245.7 449L1245.8 423L1246.0 434L1246.2 441L1246.4 399L1246.5 449L1246.7 437L1246.9 440L1247.1 446L1247.3 463L1247.4 438L1247.6 433L1247.8 462L1248.0 431L1248.1 430L1248.3 418L1248.5 452L1248.7 441L1248.9 444L1249.0 440L1249.2 436L1249.4 427L1249.6 427L1249.7 444L1249.9 439L1250.1 460L1250.3 427L1250.5 424" fill="none" stroke="#4e4e4e" stroke-width="3.7" stroke-linejoin="round" stroke-linecap="round"/>
<path clip-path="url(#cp)" d="M624.6 40L625.9 120L626.8 200L627.8 255M1179 40L1178.6 120L1178.2 200M755.2 60L755.6 180L756.6 240" fill="none" stroke="#4e4e4e" stroke-width="2.6" stroke-linecap="round"/>
<line x1="94.7" x2="1249.0" y1="640.5" y2="640.5" stroke="#3fa972" stroke-width="1.5"/>
<g stroke="#3fa972" stroke-width="3.6" stroke-linecap="round"><line x1="170" y1="639.5" x2="170" y2="563.3"/><line x1="415.1" y1="639.5" x2="415.1" y2="605.8"/><line x1="512.6" y1="639.5" x2="512.6" y2="563.3"/><line x1="522.1" y1="639.5" x2="522.1" y2="639.0"/><line x1="753.5" y1="639.5" x2="753.5" y2="614.4"/><line x1="876.7" y1="639.5" x2="876.7" y2="621.8"/><line x1="897.5" y1="639.5" x2="897.5" y2="639.5"/><line x1="941.9" y1="639.5" x2="941.9" y2="628.8"/><line x1="1059.1" y1="639.5" x2="1059.1" y2="637.8"/><line x1="1079.8" y1="639.5" x2="1079.8" y2="634.8"/><line x1="1119.7" y1="639.5" x2="1119.7" y2="633.6"/><line x1="1126.1" y1="639.5" x2="1126.1" y2="638.4"/></g>
<line x1="94.7" x2="1249.0" y1="807.6" y2="807.6" stroke="#2a6fd0" stroke-width="1.5"/>
<g stroke="#2a6fd0" stroke-width="3.6" stroke-linecap="round"><line x1="215.7" y1="806.6" x2="215.7" y2="760.8"/><line x1="376.1" y1="806.6" x2="376.1" y2="805.0"/><line x1="381.9" y1="806.6" x2="381.9" y2="730.3"/><line x1="500.9" y1="806.6" x2="500.9" y2="780.1"/><line x1="509.7" y1="806.6" x2="509.7" y2="798.4"/><line x1="617.6" y1="806.6" x2="617.6" y2="781.3"/><line x1="713.5" y1="806.6" x2="713.5" y2="768.6"/><line x1="720.4" y1="806.6" x2="720.4" y2="775.6"/><line x1="800.1" y1="806.6" x2="800.1" y2="796.8"/><line x1="810.3" y1="806.6" x2="810.3" y2="787.1"/><line x1="813.6" y1="806.6" x2="813.6" y2="787.1"/><line x1="1043.9" y1="806.6" x2="1043.9" y2="806.4"/><line x1="1052.8" y1="806.6" x2="1052.8" y2="805.4"/><line x1="1056.8" y1="806.6" x2="1056.8" y2="805.0"/><line x1="1061.5" y1="806.6" x2="1061.5" y2="806.4"/><line x1="1128" y1="806.6" x2="1128" y2="802.6"/><line x1="1136.6" y1="806.6" x2="1136.6" y2="806.4"/><line x1="1198.4" y1="806.6" x2="1198.4" y2="806.6"/><line x1="1209" y1="806.6" x2="1209" y2="806.4"/><line x1="1214.4" y1="806.6" x2="1214.4" y2="803.0"/></g>
<g stroke="#dc3c46" stroke-width="3.6" stroke-linecap="round"><line x1="620.8" y1="948.5" x2="620.8" y2="873.3"/><line x1="751" y1="948.5" x2="751" y2="918.4"/><line x1="1187.9" y1="948.5" x2="1187.9" y2="938.2"/></g>
<rect x="94.7" y="20.2" width="1154.3" height="929.3" fill="none" stroke="#000" stroke-width="4"/>
<g stroke="#000" stroke-width="3.6"><line x1="182.7" x2="182.7" y1="949.5" y2="932"/><line x1="360.4" x2="360.4" y1="949.5" y2="932"/><line x1="538.0" x2="538.0" y1="949.5" y2="932"/><line x1="715.7" x2="715.7" y1="949.5" y2="932"/><line x1="893.3" x2="893.3" y1="949.5" y2="932"/><line x1="1071.0" x2="1071.0" y1="949.5" y2="932"/></g>
<path transform="translate(159.3,223.7) scale(1.0,1.0)" d="M0,-13.5 C2.5,-8.5 12.5,-2 12.5,5 C12.5,8.6 9.8,10.7 6.9,10.7 C4.6,10.7 2.6,9.6 1.4,7.6 L3.2,13.5 L-3.2,13.5 L-1.4,7.6 C-2.6,9.6 -4.6,10.7 -6.9,10.7 C-9.8,10.7 -12.5,8.6 -12.5,5 C-12.5,-2 -2.5,-8.5 0,-13.5Z" fill="#0cdc0c"/>
<path transform="translate(417.5,313.3) scale(1.0,1.0)" d="M0,-13.5 C2.5,-8.5 12.5,-2 12.5,5 C12.5,8.6 9.8,10.7 6.9,10.7 C4.6,10.7 2.6,9.6 1.4,7.6 L3.2,13.5 L-3.2,13.5 L-1.4,7.6 C-2.6,9.6 -4.6,10.7 -6.9,10.7 C-9.8,10.7 -12.5,8.6 -12.5,5 C-12.5,-2 -2.5,-8.5 0,-13.5Z" fill="#0cdc0c"/>
<path transform="translate(515.2,306.7) scale(1.0,1.0)" d="M0,-13.5 C2.5,-8.5 12.5,-2 12.5,5 C12.5,8.6 9.8,10.7 6.9,10.7 C4.6,10.7 2.6,9.6 1.4,7.6 L3.2,13.5 L-3.2,13.5 L-1.4,7.6 C-2.6,9.6 -4.6,10.7 -6.9,10.7 C-9.8,10.7 -12.5,8.6 -12.5,5 C-12.5,-2 -2.5,-8.5 0,-13.5Z" fill="#0cdc0c"/>
<path transform="translate(753.8,176.0) scale(1.0,1.0)" d="M0,-13.5 C2.5,-8.5 12.5,-2 12.5,5 C12.5,8.6 9.8,10.7 6.9,10.7 C4.6,10.7 2.6,9.6 1.4,7.6 L3.2,13.5 L-3.2,13.5 L-1.4,7.6 C-2.6,9.6 -4.6,10.7 -6.9,10.7 C-9.8,10.7 -12.5,8.6 -12.5,5 C-12.5,-2 -2.5,-8.5 0,-13.5Z" fill="#0cdc0c"/>
<path transform="translate(878.5,339.2) scale(1.0,1.0)" d="M0,-13.5 C2.5,-8.5 12.5,-2 12.5,5 C12.5,8.6 9.8,10.7 6.9,10.7 C4.6,10.7 2.6,9.6 1.4,7.6 L3.2,13.5 L-3.2,13.5 L-1.4,7.6 C-2.6,9.6 -4.6,10.7 -6.9,10.7 C-9.8,10.7 -12.5,8.6 -12.5,5 C-12.5,-2 -2.5,-8.5 0,-13.5Z" fill="#0cdc0c"/>
<path transform="translate(951.8,361.7) scale(1.0,1.0)" d="M0,-13.5 C2.5,-8.5 12.5,-2 12.5,5 C12.5,8.6 9.8,10.7 6.9,10.7 C4.6,10.7 2.6,9.6 1.4,7.6 L3.2,13.5 L-3.2,13.5 L-1.4,7.6 C-2.6,9.6 -4.6,10.7 -6.9,10.7 C-9.8,10.7 -12.5,8.6 -12.5,5 C-12.5,-2 -2.5,-8.5 0,-13.5Z" fill="#0cdc0c"/>
<path transform="translate(1117,349.3) scale(1.0,1.0)" d="M0,-13.5 C2.5,-8.5 12.5,-2 12.5,5 C12.5,8.6 9.8,10.7 6.9,10.7 C4.6,10.7 2.6,9.6 1.4,7.6 L3.2,13.5 L-3.2,13.5 L-1.4,7.6 C-2.6,9.6 -4.6,10.7 -6.9,10.7 C-9.8,10.7 -12.5,8.6 -12.5,5 C-12.5,-2 -2.5,-8.5 0,-13.5Z" fill="#0cdc0c"/>
<path transform="translate(217.5,195) scale(1.0,1.0)" d="M0,-13.7 L10.8,0 L0,13.7 L-10.8,0Z" fill="#0f96f0"/>
<path transform="translate(385.2,255.3) scale(1.0,1.0)" d="M0,-13.7 L10.8,0 L0,13.7 L-10.8,0Z" fill="#0f96f0"/>
<path transform="translate(499.5,278) scale(1.0,1.0)" d="M0,-13.7 L10.8,0 L0,13.7 L-10.8,0Z" fill="#0f96f0"/>
<path transform="translate(620.5,161.6) scale(1.0,1.0)" d="M0,-13.7 L10.8,0 L0,13.7 L-10.8,0Z" fill="#0f96f0"/>
<path transform="translate(707.5,303.7) scale(1.0,1.0)" d="M0,-13.7 L10.8,0 L0,13.7 L-10.8,0Z" fill="#0f96f0"/>
<path transform="translate(717.5,280.5) scale(1.0,1.0)" d="M0,-13.7 L10.8,0 L0,13.7 L-10.8,0Z" fill="#0f96f0"/>
<path transform="translate(802.5,289.2) scale(1.0,1.0)" d="M0,-13.7 L10.8,0 L0,13.7 L-10.8,0Z" fill="#0f96f0"/>
<path transform="translate(813.2,312) scale(1.0,1.0)" d="M0,-13.7 L10.8,0 L0,13.7 L-10.8,0Z" fill="#0f96f0"/>
<path transform="translate(1126.7,315.3) scale(1.0,1.0)" d="M0,-13.7 L10.8,0 L0,13.7 L-10.8,0Z" fill="#0f96f0"/>
<g transform="translate(618.2,116) scale(1.0,1.0)" fill="#fa0505"><circle cx="0" cy="-7.6" r="6.4"/><circle cx="-7.6" cy="3.3" r="6.5"/><circle cx="7.6" cy="3.3" r="6.5"/><circle cx="0" cy="0.5" r="3.4"/><path d="M-1.1,2 L-1.1,9.5 L-2.9,14 L2.9,14 L1.1,9.5 L1.1,2Z"/></g>
<g transform="translate(749.8,119.3) scale(1.0,1.0)" fill="#fa0505"><circle cx="0" cy="-7.6" r="6.4"/><circle cx="-7.6" cy="3.3" r="6.5"/><circle cx="7.6" cy="3.3" r="6.5"/><circle cx="0" cy="0.5" r="3.4"/><path d="M-1.1,2 L-1.1,9.5 L-2.9,14 L2.9,14 L1.1,9.5 L1.1,2Z"/></g>
<g transform="translate(1185,121.8) scale(1.0,1.0)" fill="#fa0505"><circle cx="0" cy="-7.6" r="6.4"/><circle cx="-7.6" cy="3.3" r="6.5"/><circle cx="7.6" cy="3.3" r="6.5"/><circle cx="0" cy="0.5" r="3.4"/><path d="M-1.1,2 L-1.1,9.5 L-2.9,14 L2.9,14 L1.1,9.5 L1.1,2Z"/></g>
<g transform="translate(988.4,47.9) scale(0.82,0.79)" fill="#fa0505"><circle cx="0" cy="-7.6" r="6.4"/><circle cx="-7.6" cy="3.3" r="6.5"/><circle cx="7.6" cy="3.3" r="6.5"/><circle cx="0" cy="0.5" r="3.4"/><path d="M-1.1,2 L-1.1,9.5 L-2.9,14 L2.9,14 L1.1,9.5 L1.1,2Z"/></g>
<path transform="translate(988.3,103.1) scale(0.85,0.81)" d="M0,-13.7 L10.8,0 L0,13.7 L-10.8,0Z" fill="#0f96f0"/>
<path transform="translate(988.4,167.45) scale(0.8,0.81)" d="M0,-13.5 C2.5,-8.5 12.5,-2 12.5,5 C12.5,8.6 9.8,10.7 6.9,10.7 C4.6,10.7 2.6,9.6 1.4,7.6 L3.2,13.5 L-3.2,13.5 L-1.4,7.6 C-2.6,9.6 -4.6,10.7 -6.9,10.7 C-9.8,10.7 -12.5,8.6 -12.5,5 C-12.5,-2 -2.5,-8.5 0,-13.5Z" fill="#0cdc0c"/>
<g font-family="'Liberation Serif','Times New Roman',serif" font-size="39.1" fill="#000"><text x="1012.7" y="58.7">Ni foam</text><text x="1012.7" y="114.4">Ni<tspan font-size="34" dy="8.8">3</tspan><tspan dy="-8.8" dx="1.5">S</tspan><tspan font-size="34" dy="8.8" dx="1">2</tspan></text><text x="1012.7" y="177.8">Ni(OH)<tspan font-size="34" dy="9.3" dx="1.5">2</tspan></text></g>
<g font-family="'Liberation Serif','Times New Roman',serif" font-weight="bold"><g font-size="35.3" fill="#3aa76d"><text x="734.5" y="591.4">Ni(OH)<tspan font-size="34" dy="10.1">2</tspan></text><text x="882.4" y="591.4">JCPDS No.00-014-0117</text></g><g font-size="35.1" fill="#2a6fd0"><text x="768.3" y="748.3">Ni<tspan font-size="34" dy="10.1">3</tspan><tspan dy="-10.1">S</tspan><tspan font-size="34" dy="10.1">2</tspan></text><text x="874.1" y="748.3">JCPDS No.01-073-0698</text></g><g font-size="34.8" fill="#e1000a"><text x="757.0" y="895.8">Ni foam</text><text x="889.9" y="895.8">JCPDS No.01-070-0989</text></g></g>
<g font-family="'Liberation Serif','Times New Roman',serif" font-weight="bold" font-size="48" fill="#000" text-anchor="middle">
<text x="183.0" y="1007.9">20</text>
<text x="360.7" y="1007.9">30</text>
<text x="538.3" y="1007.9">40</text>
<text x="716.0" y="1007.9">50</text>
<text x="893.6" y="1007.9">60</text>
<text x="1071.3" y="1007.9">70</text>
<text x="1249.0" y="1007.9">80</text>
<text x="638.3" y="1071.7" font-size="48.8" text-anchor="start">2θ/°</text>
<text transform="translate(42.4,454.3) rotate(-90)" font-size="48.2">Intensity/a.u.</text>
</g>
</svg>
</body></html>
